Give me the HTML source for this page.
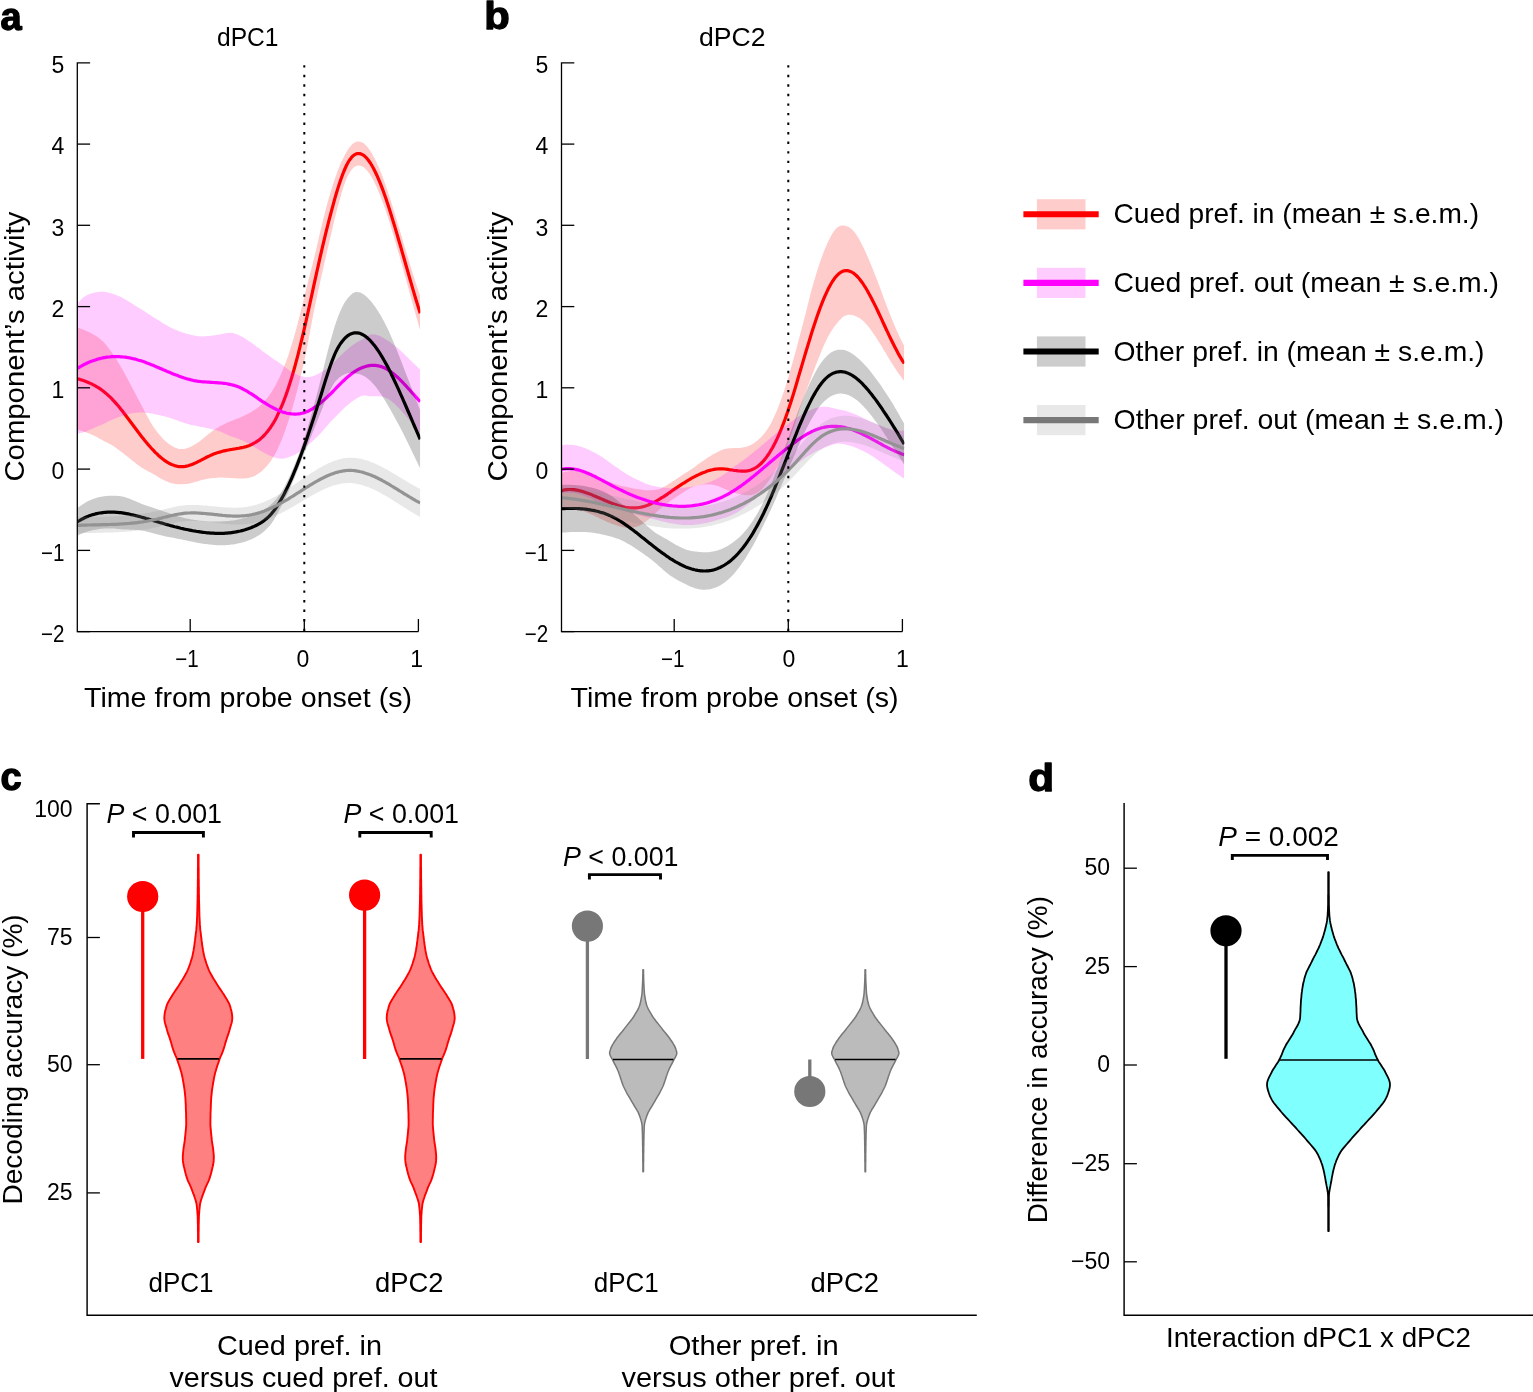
<!DOCTYPE html>
<html><head><meta charset="utf-8"><title>Figure</title>
<style>
html,body{margin:0;padding:0;background:#fff;}
body{width:1533px;height:1392px;overflow:hidden;}
svg{display:block;font-family:"Liberation Sans","DejaVu Sans",sans-serif;fill:#000;}
svg text{fill:#000;}
</style></head><body>
<svg width="1533" height="1392" viewBox="0 0 1533 1392">
<defs><clipPath id="ca"><rect x="77.3" y="40" width="343" height="592"/></clipPath><clipPath id="cb"><rect x="561.5" y="40" width="342.8" height="592"/></clipPath></defs>
<rect width="1533" height="1392" fill="#fff"/>
<g clip-path="url(#ca)">
<path d="M77.3,327.7 L78.8,328.1 L80.3,328.6 L81.8,329.1 L83.3,329.6 L84.8,330.2 L86.3,330.9 L87.8,331.5 L89.3,332.2 L90.8,333 L92.3,333.8 L93.8,334.7 L95.3,335.6 L96.8,336.6 L98.3,337.6 L99.8,338.7 L101.3,339.9 L102.8,341.2 L104.3,342.8 L105.8,344.4 L107.2,346.3 L108.7,348.2 L110.2,350.2 L111.7,352.3 L113.2,354.5 L114.7,356.8 L116.2,359.1 L117.7,361.5 L119.2,363.9 L120.7,366.5 L122.2,369.1 L123.7,371.8 L125.2,374.5 L126.7,377.3 L128.2,380.1 L129.7,382.9 L131.2,385.7 L132.7,388.6 L134.2,391.5 L135.7,394.3 L137.2,397.2 L138.7,400 L140.2,402.8 L141.7,405.7 L143.2,408.5 L144.7,411.4 L146.2,414.3 L147.7,417.1 L149.2,419.8 L150.7,422.4 L152.2,424.9 L153.7,427.2 L155.2,429.3 L156.7,431.3 L158.2,433.3 L159.7,435.1 L161.2,436.8 L162.7,438.4 L164.1,439.9 L165.6,441.3 L167.1,442.6 L168.6,443.7 L170.1,444.8 L171.6,445.8 L173.1,446.6 L174.6,447.4 L176.1,448 L177.6,448.5 L179.1,448.9 L180.6,449.1 L182.1,449.1 L183.6,449 L185.1,448.7 L186.6,448.3 L188.1,447.8 L189.6,447.2 L191.1,446.5 L192.6,445.7 L194.1,444.8 L195.6,444 L197.1,443 L198.6,442 L200.1,440.9 L201.6,439.7 L203.1,438.5 L204.6,437.3 L206.1,436 L207.6,434.8 L209.1,433.6 L210.6,432.4 L212.1,431.3 L213.6,430.2 L215.1,429.2 L216.6,428.3 L218.1,427.4 L219.6,426.6 L221,425.7 L222.5,425 L224,424.2 L225.5,423.5 L227,422.8 L228.5,422.1 L230,421.5 L231.5,420.9 L233,420.3 L234.5,419.7 L236,419.1 L237.5,418.6 L239,418 L240.5,417.4 L242,416.7 L243.5,416 L245,415.3 L246.5,414.6 L248,413.8 L249.5,413 L251,412.2 L252.5,411.3 L254,410.3 L255.5,409.3 L257,408.3 L258.5,407.1 L260,405.8 L261.5,404.4 L263,402.9 L264.5,401.3 L266,399.6 L267.5,397.7 L269,395.7 L270.5,393.5 L272,391.2 L273.5,388.8 L275,386.2 L276.5,383.4 L277.9,380.5 L279.4,377.4 L280.9,374.2 L282.4,370.7 L283.9,367.1 L285.4,363.2 L286.9,359.2 L288.4,354.9 L289.9,350.3 L291.4,345.6 L292.9,340.6 L294.4,335.4 L295.9,330.1 L297.4,324.5 L298.9,318.8 L300.4,312.9 L301.9,306.8 L303.4,300.6 L304.9,294.3 L306.4,288.3 L307.9,282.4 L309.4,276.6 L310.9,270.8 L312.4,264.9 L313.9,258.8 L315.4,252.4 L316.9,246 L318.4,239.5 L319.9,233.1 L321.4,226.8 L322.9,220.6 L324.4,214.5 L325.9,208.7 L327.4,203.1 L328.9,197.8 L330.4,192.7 L331.9,187.9 L333.4,183.3 L334.8,178.9 L336.3,174.7 L337.8,170.6 L339.3,166.7 L340.8,163.1 L342.3,159.9 L343.8,156.9 L345.3,154.1 L346.8,151.5 L348.3,149.1 L349.8,146.9 L351.3,145.2 L352.8,143.8 L354.3,142.8 L355.8,142.1 L357.3,141.6 L358.8,141.5 L360.3,141.7 L361.8,142.3 L363.3,143.1 L364.8,144.3 L366.3,145.7 L367.8,147.5 L369.3,149.5 L370.8,151.7 L372.3,154.2 L373.8,156.9 L375.3,159.8 L376.8,162.9 L378.3,166.2 L379.8,169.7 L381.3,173.4 L382.8,177.3 L384.3,181.4 L385.8,185.6 L387.3,189.9 L388.8,194.4 L390.3,198.9 L391.7,203.6 L393.2,208.4 L394.7,213.3 L396.2,218.2 L397.7,223.2 L399.2,228.2 L400.7,233.3 L402.2,238.3 L403.7,243.4 L405.2,248.5 L406.7,253.6 L408.2,258.6 L409.7,263.5 L411.2,268.4 L412.7,273.3 L414.2,278 L415.7,282.7 L417.2,287.2 L418.7,291.7 L420.2,296 L420.2,330.4 L418.7,325.2 L417.2,320 L415.7,314.7 L414.2,309.3 L412.7,303.9 L411.2,298.4 L409.7,292.9 L408.2,287.5 L406.7,282 L405.2,276.6 L403.7,271.2 L402.2,265.8 L400.7,260.4 L399.2,255.1 L397.7,249.9 L396.2,244.7 L394.7,239.6 L393.2,234.5 L391.7,229.6 L390.3,224.8 L388.8,220 L387.3,215.4 L385.8,211 L384.3,206.6 L382.8,202.5 L381.3,198.4 L379.8,194.6 L378.3,190.9 L376.8,187.4 L375.3,184.2 L373.8,181.1 L372.3,178.3 L370.8,175.7 L369.3,173.5 L367.8,171.5 L366.3,169.7 L364.8,168.3 L363.3,167.1 L361.8,166.3 L360.3,165.7 L358.8,165.5 L357.3,165.7 L355.8,166.2 L354.3,167.1 L352.8,168.4 L351.3,170.2 L349.8,172.4 L348.3,175 L346.8,178.1 L345.3,181.8 L343.8,186.1 L342.3,190.8 L340.8,195.9 L339.3,201.2 L337.8,206.7 L336.3,212.4 L334.8,218.3 L333.4,224.5 L331.9,230.8 L330.4,237.2 L328.9,243.7 L327.4,250.2 L325.9,256.8 L324.4,263.3 L322.9,269.9 L321.4,276.5 L319.9,283.3 L318.4,290.1 L316.9,297.1 L315.4,304.2 L313.9,311.6 L312.4,319.3 L310.9,327.2 L309.4,335.1 L307.9,343 L306.4,350.7 L304.9,357.9 L303.4,364.7 L301.9,371.3 L300.4,377.6 L298.9,383.7 L297.4,389.7 L295.9,395.4 L294.4,400.9 L292.9,406.3 L291.4,411.4 L289.9,416.3 L288.4,421.1 L286.9,425.6 L285.4,430 L283.9,434.1 L282.4,438 L280.9,441.7 L279.4,445.1 L277.9,448.4 L276.5,451.4 L275,454.2 L273.5,456.8 L272,459.2 L270.5,461.4 L269,463.4 L267.5,465.3 L266,467.1 L264.5,468.6 L263,470.1 L261.5,471.4 L260,472.6 L258.5,473.6 L257,474.6 L255.5,475.4 L254,476.2 L252.5,476.8 L251,477.3 L249.5,477.7 L248,478 L246.5,478.2 L245,478.4 L243.5,478.5 L242,478.5 L240.5,478.5 L239,478.5 L237.5,478.4 L236,478.3 L234.5,478.3 L233,478.2 L231.5,478.1 L230,478 L228.5,477.9 L227,477.8 L225.5,477.7 L224,477.7 L222.5,477.6 L221,477.6 L219.6,477.6 L218.1,477.7 L216.6,477.8 L215.1,477.9 L213.6,478 L212.1,478.2 L210.6,478.3 L209.1,478.6 L207.6,478.8 L206.1,479.1 L204.6,479.4 L203.1,479.7 L201.6,480.1 L200.1,480.5 L198.6,480.9 L197.1,481.4 L195.6,481.8 L194.1,482.3 L192.6,482.7 L191.1,483.1 L189.6,483.4 L188.1,483.7 L186.6,483.9 L185.1,484.1 L183.6,484.2 L182.1,484.3 L180.6,484.3 L179.1,484.3 L177.6,484.2 L176.1,484.1 L174.6,483.9 L173.1,483.6 L171.6,483.2 L170.1,482.8 L168.6,482.2 L167.1,481.6 L165.6,481 L164.1,480.3 L162.7,479.5 L161.2,478.7 L159.7,477.9 L158.2,477.1 L156.7,476.1 L155.2,475.2 L153.7,474.3 L152.2,473.4 L150.7,472.6 L149.2,471.9 L147.7,471.1 L146.2,470.3 L144.7,469.5 L143.2,468.6 L141.7,467.7 L140.2,466.6 L138.7,465.5 L137.2,464.4 L135.7,463.2 L134.2,462 L132.7,460.9 L131.2,459.7 L129.7,458.5 L128.2,457.3 L126.7,456.1 L125.2,454.9 L123.7,453.8 L122.2,452.6 L120.7,451.4 L119.2,450.3 L117.7,449.2 L116.2,448.1 L114.7,447 L113.2,446 L111.7,445.1 L110.2,444.2 L108.7,443.4 L107.2,442.6 L105.8,441.9 L104.3,441.2 L102.8,440.4 L101.3,439.6 L99.8,438.7 L98.3,437.9 L96.8,437.1 L95.3,436.3 L93.8,435.6 L92.3,434.9 L90.8,434.2 L89.3,433.6 L87.8,433.1 L86.3,432.5 L84.8,432 L83.3,431.5 L81.8,431 L80.3,430.5 L78.8,430.1 L77.3,429.7 Z" fill="rgba(255,0,0,0.2)" stroke="none"/>
<path d="M77.3,378.7 L78.8,379.1 L80.3,379.6 L81.8,380 L83.3,380.6 L84.8,381.1 L86.3,381.7 L87.8,382.3 L89.3,382.9 L90.8,383.6 L92.3,384.3 L93.8,385.1 L95.3,385.9 L96.8,386.8 L98.3,387.7 L99.8,388.7 L101.3,389.7 L102.8,390.8 L104.3,392 L105.8,393.2 L107.2,394.4 L108.7,395.8 L110.2,397.2 L111.7,398.7 L113.2,400.3 L114.7,401.9 L116.2,403.6 L117.7,405.3 L119.2,407.1 L120.7,409 L122.2,410.8 L123.7,412.8 L125.2,414.7 L126.7,416.7 L128.2,418.7 L129.7,420.7 L131.2,422.7 L132.7,424.7 L134.2,426.8 L135.7,428.8 L137.2,430.8 L138.7,432.8 L140.2,434.7 L141.7,436.7 L143.2,438.6 L144.7,440.5 L146.2,442.3 L147.7,444.1 L149.2,445.8 L150.7,447.5 L152.2,449.2 L153.7,450.7 L155.2,452.3 L156.7,453.7 L158.2,455.2 L159.7,456.5 L161.2,457.8 L162.7,459 L164.1,460.1 L165.6,461.1 L167.1,462.1 L168.6,463 L170.1,463.8 L171.6,464.5 L173.1,465.1 L174.6,465.6 L176.1,466 L177.6,466.4 L179.1,466.6 L180.6,466.7 L182.1,466.7 L183.6,466.6 L185.1,466.4 L186.6,466.1 L188.1,465.8 L189.6,465.3 L191.1,464.8 L192.6,464.2 L194.1,463.6 L195.6,462.9 L197.1,462.2 L198.6,461.4 L200.1,460.7 L201.6,459.9 L203.1,459.1 L204.6,458.3 L206.1,457.5 L207.6,456.8 L209.1,456.1 L210.6,455.4 L212.1,454.7 L213.6,454.1 L215.1,453.5 L216.6,453 L218.1,452.5 L219.6,452.1 L221,451.7 L222.5,451.3 L224,450.9 L225.5,450.6 L227,450.3 L228.5,450 L230,449.7 L231.5,449.5 L233,449.2 L234.5,449 L236,448.7 L237.5,448.5 L239,448.2 L240.5,447.9 L242,447.6 L243.5,447.3 L245,446.9 L246.5,446.4 L248,445.9 L249.5,445.4 L251,444.7 L252.5,444 L254,443.2 L255.5,442.4 L257,441.4 L258.5,440.4 L260,439.2 L261.5,437.9 L263,436.5 L264.5,435 L266,433.3 L267.5,431.5 L269,429.6 L270.5,427.5 L272,425.2 L273.5,422.8 L275,420.2 L276.5,417.4 L277.9,414.4 L279.4,411.3 L280.9,407.9 L282.4,404.4 L283.9,400.6 L285.4,396.6 L286.9,392.4 L288.4,388 L289.9,383.3 L291.4,378.5 L292.9,373.4 L294.4,368.2 L295.9,362.7 L297.4,357.1 L298.9,351.2 L300.4,345.2 L301.9,339 L303.4,332.7 L304.9,326.1 L306.4,319.5 L307.9,312.7 L309.4,305.9 L310.9,299 L312.4,292.1 L313.9,285.2 L315.4,278.3 L316.9,271.5 L318.4,264.8 L319.9,258.2 L321.4,251.7 L322.9,245.2 L324.4,238.9 L325.9,232.7 L327.4,226.7 L328.9,220.7 L330.4,215 L331.9,209.3 L333.4,203.9 L334.8,198.6 L336.3,193.5 L337.8,188.6 L339.3,184 L340.8,179.5 L342.3,175.4 L343.8,171.5 L345.3,168 L346.8,164.8 L348.3,162 L349.8,159.7 L351.3,157.7 L352.8,156.1 L354.3,154.9 L355.8,154.1 L357.3,153.6 L358.8,153.5 L360.3,153.7 L361.8,154.3 L363.3,155.1 L364.8,156.3 L366.3,157.7 L367.8,159.5 L369.3,161.5 L370.8,163.7 L372.3,166.3 L373.8,169 L375.3,172 L376.8,175.2 L378.3,178.6 L379.8,182.2 L381.3,185.9 L382.8,189.9 L384.3,194 L385.8,198.3 L387.3,202.7 L388.8,207.2 L390.3,211.9 L391.7,216.6 L393.2,221.5 L394.7,226.4 L396.2,231.4 L397.7,236.5 L399.2,241.7 L400.7,246.8 L402.2,252.1 L403.7,257.3 L405.2,262.5 L406.7,267.8 L408.2,273 L409.7,278.2 L411.2,283.4 L412.7,288.6 L414.2,293.6 L415.7,298.7 L417.2,303.6 L418.7,308.5 L420.2,313.2" fill="none" stroke="#FF0000" stroke-width="3.2" stroke-linejoin="round"/>
<path d="M77.3,303.3 L78.8,301.7 L80.3,300.2 L81.8,298.8 L83.3,297.5 L84.8,296.4 L86.3,295.5 L87.8,294.8 L89.3,294.2 L90.8,293.6 L92.3,293.2 L93.8,292.8 L95.3,292.4 L96.8,292.1 L98.3,291.9 L99.8,291.7 L101.3,291.6 L102.8,291.7 L104.3,291.8 L105.8,292 L107.2,292.3 L108.7,292.7 L110.2,293.1 L111.7,293.5 L113.2,294 L114.7,294.5 L116.2,295.1 L117.7,295.7 L119.2,296.3 L120.7,297 L122.2,297.8 L123.7,298.6 L125.2,299.4 L126.7,300.3 L128.2,301.2 L129.7,302.1 L131.2,303.1 L132.7,304 L134.2,304.9 L135.7,305.9 L137.2,306.8 L138.7,307.7 L140.2,308.7 L141.7,309.6 L143.2,310.6 L144.7,311.6 L146.2,312.6 L147.7,313.5 L149.2,314.5 L150.7,315.5 L152.2,316.4 L153.7,317.4 L155.2,318.3 L156.7,319.2 L158.2,320.1 L159.7,321.1 L161.2,322 L162.7,323 L164.1,323.9 L165.6,324.8 L167.1,325.6 L168.6,326.5 L170.1,327.3 L171.6,328.1 L173.1,328.8 L174.6,329.5 L176.1,330.1 L177.6,330.6 L179.1,331.2 L180.6,331.7 L182.1,332.3 L183.6,332.8 L185.1,333.2 L186.6,333.7 L188.1,334.1 L189.6,334.5 L191.1,334.9 L192.6,335.2 L194.1,335.6 L195.6,335.8 L197.1,336.1 L198.6,336.2 L200.1,336.3 L201.6,336.4 L203.1,336.4 L204.6,336.3 L206.1,336.2 L207.6,336.1 L209.1,335.9 L210.6,335.7 L212.1,335.6 L213.6,335.4 L215.1,335.2 L216.6,335.1 L218.1,334.8 L219.6,334.5 L221,334.2 L222.5,333.9 L224,333.5 L225.5,333.2 L227,333 L228.5,332.9 L230,332.8 L231.5,332.9 L233,333.1 L234.5,333.5 L236,334 L237.5,334.6 L239,335.2 L240.5,335.9 L242,336.7 L243.5,337.5 L245,338.4 L246.5,339.4 L248,340.4 L249.5,341.4 L251,342.5 L252.5,343.5 L254,344.6 L255.5,345.8 L257,346.9 L258.5,348 L260,349.1 L261.5,350.3 L263,351.4 L264.5,352.5 L266,353.6 L267.5,354.7 L269,355.8 L270.5,356.8 L272,357.9 L273.5,358.9 L275,359.9 L276.5,360.9 L277.9,361.8 L279.4,362.9 L280.9,364 L282.4,365.1 L283.9,366.2 L285.4,367.4 L286.9,368.5 L288.4,369.6 L289.9,370.7 L291.4,371.6 L292.9,372.5 L294.4,373.3 L295.9,374 L297.4,374.7 L298.9,375.4 L300.4,375.9 L301.9,376.4 L303.4,376.8 L304.9,377.1 L306.4,377.2 L307.9,377.1 L309.4,377 L310.9,376.7 L312.4,376.3 L313.9,375.8 L315.4,375.2 L316.9,374.5 L318.4,373.7 L319.9,372.9 L321.4,372 L322.9,371.2 L324.4,370.2 L325.9,369.2 L327.4,368.2 L328.9,367 L330.4,365.8 L331.9,364.5 L333.4,363 L334.8,361.5 L336.3,359.9 L337.8,358.4 L339.3,356.9 L340.8,355.4 L342.3,353.9 L343.8,352.5 L345.3,351.1 L346.8,349.7 L348.3,348.4 L349.8,347.2 L351.3,346 L352.8,344.9 L354.3,343.9 L355.8,342.9 L357.3,342 L358.8,341.2 L360.3,340.4 L361.8,339.7 L363.3,338.8 L364.8,337.8 L366.3,336.8 L367.8,335.9 L369.3,335.1 L370.8,334.5 L372.3,334.3 L373.8,334.4 L375.3,334.6 L376.8,335 L378.3,335.5 L379.8,336.1 L381.3,336.8 L382.8,337.6 L384.3,338.4 L385.8,339.4 L387.3,340.3 L388.8,341.3 L390.3,342.3 L391.7,343.4 L393.2,344.5 L394.7,345.7 L396.2,346.9 L397.7,348.1 L399.2,349.4 L400.7,350.8 L402.2,352.2 L403.7,353.6 L405.2,355.1 L406.7,356.5 L408.2,358 L409.7,359.5 L411.2,361 L412.7,362.5 L414.2,363.9 L415.7,365.3 L417.2,366.8 L418.7,368.2 L420.2,369.5 L420.2,433.8 L418.7,431.9 L417.2,430 L415.7,428.1 L414.2,426.2 L412.7,424.3 L411.2,422.4 L409.7,420.5 L408.2,418.7 L406.7,416.9 L405.2,415.1 L403.7,413.4 L402.2,411.7 L400.7,410 L399.2,408.4 L397.7,406.9 L396.2,405.4 L394.7,404 L393.2,402.7 L391.7,401.5 L390.3,400.3 L388.8,399.3 L387.3,398.4 L385.8,397.7 L384.3,397.2 L382.8,396.8 L381.3,396.5 L379.8,396.3 L378.3,396.2 L376.8,396.2 L375.3,396.2 L373.8,396.3 L372.3,396.3 L370.8,396.3 L369.3,396.2 L367.8,395.9 L366.3,395.7 L364.8,395.5 L363.3,395.5 L361.8,395.8 L360.3,396.4 L358.8,397.2 L357.3,398 L355.8,398.9 L354.3,399.9 L352.8,400.9 L351.3,402 L349.8,403.2 L348.3,404.4 L346.8,405.7 L345.3,407.1 L343.8,408.5 L342.3,409.9 L340.8,411.4 L339.3,412.9 L337.8,414.4 L336.3,415.9 L334.8,417.5 L333.4,419 L331.9,420.5 L330.4,422.1 L328.9,423.8 L327.4,425.5 L325.9,427.3 L324.4,429 L322.9,430.7 L321.4,432.4 L319.9,434 L318.4,435.5 L316.9,437 L315.4,438.5 L313.9,439.9 L312.4,441.3 L310.9,442.7 L309.4,444 L307.9,445.2 L306.4,446.5 L304.9,447.7 L303.4,448.9 L301.9,450.1 L300.4,451.2 L298.9,452.3 L297.4,453.3 L295.9,454.1 L294.4,454.9 L292.9,455.5 L291.4,456.2 L289.9,456.8 L288.4,457.3 L286.9,457.8 L285.4,458.2 L283.9,458.5 L282.4,458.7 L280.9,458.7 L279.4,458.6 L277.9,458.4 L276.5,458.1 L275,457.6 L273.5,457.1 L272,456.5 L270.5,455.9 L269,455.2 L267.5,454.5 L266,453.8 L264.5,453 L263,452.1 L261.5,451.3 L260,450.4 L258.5,449.5 L257,448.6 L255.5,447.7 L254,446.8 L252.5,445.9 L251,445 L249.5,444.1 L248,443.3 L246.5,442.5 L245,441.7 L243.5,441 L242,440.3 L240.5,439.7 L239,439.1 L237.5,438.5 L236,438 L234.5,437.5 L233,437.1 L231.5,436.5 L230,435.9 L228.5,435.3 L227,434.6 L225.5,433.9 L224,433.1 L222.5,432.5 L221,431.8 L219.6,431.2 L218.1,430.7 L216.6,430.3 L215.1,429.9 L213.6,429.6 L212.1,429.2 L210.6,428.9 L209.1,428.5 L207.6,428.2 L206.1,427.9 L204.6,427.6 L203.1,427.3 L201.6,427 L200.1,426.7 L198.6,426.4 L197.1,426.1 L195.6,425.8 L194.1,425.6 L192.6,425.2 L191.1,424.9 L189.6,424.5 L188.1,424.1 L186.6,423.7 L185.1,423.2 L183.6,422.8 L182.1,422.3 L180.6,421.7 L179.1,421.2 L177.6,420.6 L176.1,420.1 L174.6,419.5 L173.1,419 L171.6,418.5 L170.1,418 L168.6,417.5 L167.1,417.1 L165.6,416.7 L164.1,416.3 L162.7,416 L161.2,415.6 L159.7,415.3 L158.2,414.9 L156.7,414.6 L155.2,414.2 L153.7,413.9 L152.2,413.6 L150.7,413.4 L149.2,413.2 L147.7,413 L146.2,412.8 L144.7,412.7 L143.2,412.6 L141.7,412.6 L140.2,412.6 L138.7,412.6 L137.2,412.7 L135.7,412.8 L134.2,412.9 L132.7,413.1 L131.2,413.4 L129.7,413.8 L128.2,414.1 L126.7,414.6 L125.2,415 L123.7,415.5 L122.2,416 L120.7,416.5 L119.2,417.1 L117.7,417.6 L116.2,418.2 L114.7,418.7 L113.2,419.3 L111.7,419.9 L110.2,420.6 L108.7,421.3 L107.2,422 L105.8,422.8 L104.3,423.5 L102.8,424.2 L101.3,424.9 L99.8,425.5 L98.3,426.1 L96.8,426.7 L95.3,427.3 L93.8,428 L92.3,428.7 L90.8,429.4 L89.3,430.1 L87.8,430.8 L86.3,431.4 L84.8,432 L83.3,432.5 L81.8,432.8 L80.3,433.1 L78.8,433.4 L77.3,433.6 Z" fill="rgba(255,0,255,0.2)" stroke="none"/>
<path d="M77.3,368.5 L78.8,367.5 L80.3,366.7 L81.8,365.8 L83.3,365 L84.8,364.2 L86.3,363.5 L87.8,362.8 L89.3,362.1 L90.8,361.5 L92.3,360.9 L93.8,360.4 L95.3,359.9 L96.8,359.4 L98.3,359 L99.8,358.6 L101.3,358.2 L102.8,357.9 L104.3,357.6 L105.8,357.4 L107.2,357.2 L108.7,357 L110.2,356.9 L111.7,356.7 L113.2,356.7 L114.7,356.6 L116.2,356.6 L117.7,356.6 L119.2,356.7 L120.7,356.8 L122.2,356.9 L123.7,357 L125.2,357.2 L126.7,357.4 L128.2,357.7 L129.7,357.9 L131.2,358.2 L132.7,358.6 L134.2,358.9 L135.7,359.3 L137.2,359.7 L138.7,360.2 L140.2,360.6 L141.7,361.1 L143.2,361.6 L144.7,362.1 L146.2,362.7 L147.7,363.3 L149.2,363.8 L150.7,364.4 L152.2,365 L153.7,365.6 L155.2,366.3 L156.7,366.9 L158.2,367.5 L159.7,368.2 L161.2,368.8 L162.7,369.5 L164.1,370.1 L165.6,370.7 L167.1,371.4 L168.6,372 L170.1,372.6 L171.6,373.3 L173.1,373.9 L174.6,374.5 L176.1,375.1 L177.6,375.6 L179.1,376.2 L180.6,376.7 L182.1,377.3 L183.6,377.8 L185.1,378.2 L186.6,378.7 L188.1,379.1 L189.6,379.5 L191.1,379.9 L192.6,380.2 L194.1,380.6 L195.6,380.8 L197.1,381.1 L198.6,381.3 L200.1,381.5 L201.6,381.7 L203.1,381.8 L204.6,381.9 L206.1,382 L207.6,382.1 L209.1,382.2 L210.6,382.3 L212.1,382.4 L213.6,382.5 L215.1,382.6 L216.6,382.7 L218.1,382.8 L219.6,382.9 L221,383 L222.5,383.2 L224,383.3 L225.5,383.5 L227,383.8 L228.5,384.1 L230,384.4 L231.5,384.7 L233,385.1 L234.5,385.5 L236,386 L237.5,386.5 L239,387.1 L240.5,387.8 L242,388.5 L243.5,389.3 L245,390.1 L246.5,390.9 L248,391.8 L249.5,392.8 L251,393.7 L252.5,394.7 L254,395.7 L255.5,396.7 L257,397.7 L258.5,398.8 L260,399.8 L261.5,400.8 L263,401.8 L264.5,402.7 L266,403.7 L267.5,404.6 L269,405.5 L270.5,406.4 L272,407.2 L273.5,408 L275,408.7 L276.5,409.5 L277.9,410.1 L279.4,410.8 L280.9,411.3 L282.4,411.9 L283.9,412.4 L285.4,412.8 L286.9,413.2 L288.4,413.5 L289.9,413.7 L291.4,413.9 L292.9,414 L294.4,414.1 L295.9,414.1 L297.4,414 L298.9,413.8 L300.4,413.6 L301.9,413.3 L303.4,412.9 L304.9,412.4 L306.4,411.8 L307.9,411.2 L309.4,410.5 L310.9,409.7 L312.4,408.8 L313.9,407.8 L315.4,406.8 L316.9,405.8 L318.4,404.6 L319.9,403.4 L321.4,402.2 L322.9,400.9 L324.4,399.6 L325.9,398.3 L327.4,396.9 L328.9,395.4 L330.4,394 L331.9,392.5 L333.4,391 L334.8,389.5 L336.3,387.9 L337.8,386.4 L339.3,384.9 L340.8,383.4 L342.3,381.9 L343.8,380.5 L345.3,379.1 L346.8,377.7 L348.3,376.4 L349.8,375.2 L351.3,374 L352.8,372.9 L354.3,371.9 L355.8,370.9 L357.3,370 L358.8,369.2 L360.3,368.4 L361.8,367.8 L363.3,367.2 L364.8,366.7 L366.3,366.2 L367.8,365.9 L369.3,365.6 L370.8,365.4 L372.3,365.3 L373.8,365.3 L375.3,365.4 L376.8,365.6 L378.3,365.8 L379.8,366.2 L381.3,366.6 L382.8,367.2 L384.3,367.8 L385.8,368.6 L387.3,369.4 L388.8,370.3 L390.3,371.3 L391.7,372.4 L393.2,373.6 L394.7,374.8 L396.2,376.1 L397.7,377.5 L399.2,378.9 L400.7,380.4 L402.2,381.9 L403.7,383.5 L405.2,385.1 L406.7,386.7 L408.2,388.4 L409.7,390 L411.2,391.7 L412.7,393.4 L414.2,395 L415.7,396.7 L417.2,398.4 L418.7,400 L420.2,401.6" fill="none" stroke="#FF00FF" stroke-width="3.2" stroke-linejoin="round"/>
<path d="M77.3,508.2 L78.8,507 L80.3,505.9 L81.8,504.9 L83.3,503.9 L84.8,503 L86.3,502.1 L87.8,501.3 L89.3,500.6 L90.8,499.9 L92.3,499.3 L93.8,498.7 L95.3,498.2 L96.8,497.8 L98.3,497.3 L99.8,497 L101.3,496.7 L102.8,496.4 L104.3,496.2 L105.8,496 L107.2,495.9 L108.7,495.8 L110.2,495.7 L111.7,495.7 L113.2,495.7 L114.7,495.7 L116.2,495.8 L117.7,495.9 L119.2,496.1 L120.7,496.2 L122.2,496.5 L123.7,496.8 L125.2,497.2 L126.7,497.7 L128.2,498.2 L129.7,498.8 L131.2,499.4 L132.7,500 L134.2,500.7 L135.7,501.3 L137.2,502 L138.7,502.6 L140.2,503.3 L141.7,503.9 L143.2,504.5 L144.7,505 L146.2,505.5 L147.7,506 L149.2,506.5 L150.7,507 L152.2,507.5 L153.7,508 L155.2,508.5 L156.7,509 L158.2,509.4 L159.7,509.9 L161.2,510.5 L162.7,511 L164.1,511.5 L165.6,512 L167.1,512.6 L168.6,513.1 L170.1,513.6 L171.6,514.2 L173.1,514.7 L174.6,515.2 L176.1,515.7 L177.6,516.2 L179.1,516.6 L180.6,517.1 L182.1,517.5 L183.6,517.8 L185.1,518.2 L186.6,518.5 L188.1,518.8 L189.6,519.1 L191.1,519.4 L192.6,519.6 L194.1,519.9 L195.6,520.1 L197.1,520.3 L198.6,520.5 L200.1,520.7 L201.6,520.8 L203.1,521 L204.6,521.1 L206.1,521.2 L207.6,521.3 L209.1,521.4 L210.6,521.5 L212.1,521.5 L213.6,521.5 L215.1,521.5 L216.6,521.5 L218.1,521.5 L219.6,521.4 L221,521.4 L222.5,521.3 L224,521.3 L225.5,521.2 L227,521.1 L228.5,520.9 L230,520.8 L231.5,520.6 L233,520.4 L234.5,520.2 L236,519.9 L237.5,519.6 L239,519.3 L240.5,519 L242,518.6 L243.5,518.2 L245,517.8 L246.5,517.4 L248,517 L249.5,516.5 L251,516 L252.5,515.4 L254,514.8 L255.5,514.2 L257,513.6 L258.5,512.9 L260,512.2 L261.5,511.4 L263,510.5 L264.5,509.6 L266,508.6 L267.5,507.5 L269,506.2 L270.5,504.9 L272,503.5 L273.5,502 L275,500.5 L276.5,498.8 L277.9,497 L279.4,495 L280.9,492.9 L282.4,490.5 L283.9,487.9 L285.4,485 L286.9,482 L288.4,478.9 L289.9,475.6 L291.4,472.3 L292.9,468.8 L294.4,465.2 L295.9,461.6 L297.4,457.8 L298.9,453.9 L300.4,450 L301.9,445.8 L303.4,441.2 L304.9,436.5 L306.4,431.6 L307.9,426.5 L309.4,421.4 L310.9,416.2 L312.4,410.9 L313.9,405.5 L315.4,399.9 L316.9,394.2 L318.4,388.5 L319.9,382.6 L321.4,376.7 L322.9,370.7 L324.4,364.6 L325.9,358.5 L327.4,352.6 L328.9,346.8 L330.4,341.3 L331.9,335.9 L333.4,330.8 L334.8,325.9 L336.3,321.4 L337.8,317.2 L339.3,313.4 L340.8,309.9 L342.3,306.8 L343.8,304 L345.3,301.6 L346.8,299.5 L348.3,297.6 L349.8,295.9 L351.3,294.5 L352.8,293.3 L354.3,292.5 L355.8,292 L357.3,291.9 L358.8,292.2 L360.3,292.6 L361.8,293.3 L363.3,294.2 L364.8,295.2 L366.3,296.5 L367.8,297.9 L369.3,299.4 L370.8,301.1 L372.3,302.9 L373.8,304.9 L375.3,306.9 L376.8,309.2 L378.3,311.5 L379.8,314 L381.3,316.6 L382.8,319.3 L384.3,322.1 L385.8,325 L387.3,328 L388.8,331.1 L390.3,334.4 L391.7,337.8 L393.2,341.3 L394.7,344.9 L396.2,348.6 L397.7,352.3 L399.2,356.1 L400.7,360 L402.2,363.8 L403.7,367.7 L405.2,371.6 L406.7,375.4 L408.2,379.3 L409.7,383.2 L411.2,387.1 L412.7,391 L414.2,394.9 L415.7,398.7 L417.2,402.6 L418.7,406.4 L420.2,410.2 L420.2,468.5 L418.7,465.4 L417.2,462.3 L415.7,459.2 L414.2,456 L412.7,452.9 L411.2,449.8 L409.7,446.7 L408.2,443.6 L406.7,440.5 L405.2,437.4 L403.7,434.4 L402.2,431.5 L400.7,428.6 L399.2,425.7 L397.7,422.9 L396.2,420.2 L394.7,417.5 L393.2,414.8 L391.7,412.1 L390.3,409.5 L388.8,406.9 L387.3,404.3 L385.8,401.7 L384.3,399.3 L382.8,396.9 L381.3,394.6 L379.8,392.4 L378.3,390.2 L376.8,388.2 L375.3,386.3 L373.8,384.5 L372.3,382.9 L370.8,381.3 L369.3,379.9 L367.8,378.7 L366.3,377.6 L364.8,376.6 L363.3,375.8 L361.8,375.1 L360.3,374.5 L358.8,374.1 L357.3,373.9 L355.8,373.6 L354.3,373.3 L352.8,373.1 L351.3,373 L349.8,373 L348.3,373.1 L346.8,373.4 L345.3,374 L343.8,374.7 L342.3,375.5 L340.8,376.5 L339.3,377.6 L337.8,378.9 L336.3,380.5 L334.8,382.3 L333.4,384.5 L331.9,387 L330.4,389.8 L328.9,393 L327.4,396.3 L325.9,399.7 L324.4,403.3 L322.9,406.9 L321.4,410.7 L319.9,414.4 L318.4,418.2 L316.9,422 L315.4,425.8 L313.9,429.5 L312.4,433.3 L310.9,437 L309.4,440.8 L307.9,444.6 L306.4,448.2 L304.9,451.8 L303.4,455.4 L301.9,459.2 L300.4,463 L298.9,466.9 L297.4,470.8 L295.9,474.6 L294.4,478.2 L292.9,481.8 L291.4,485.3 L289.9,488.6 L288.4,491.9 L286.9,495 L285.4,498 L283.9,501 L282.4,504 L280.9,506.9 L279.4,509.8 L277.9,512.7 L276.5,515.4 L275,518 L273.5,520.5 L272,522.7 L270.5,524.7 L269,526.5 L267.5,528.1 L266,529.6 L264.5,531 L263,532.3 L261.5,533.4 L260,534.5 L258.5,535.4 L257,536.3 L255.5,537.2 L254,537.9 L252.5,538.7 L251,539.4 L249.5,540 L248,540.6 L246.5,541.2 L245,541.7 L243.5,542.2 L242,542.6 L240.5,543 L239,543.3 L237.5,543.6 L236,543.9 L234.5,544.2 L233,544.4 L231.5,544.6 L230,544.8 L228.5,544.9 L227,545.1 L225.5,545.2 L224,545.3 L222.5,545.3 L221,545.3 L219.6,545.3 L218.1,545.2 L216.6,545.2 L215.1,545.1 L213.6,544.9 L212.1,544.8 L210.6,544.6 L209.1,544.5 L207.6,544.3 L206.1,544.1 L204.6,543.9 L203.1,543.7 L201.6,543.5 L200.1,543.2 L198.6,543 L197.1,542.7 L195.6,542.4 L194.1,542.1 L192.6,541.8 L191.1,541.5 L189.6,541.2 L188.1,540.9 L186.6,540.5 L185.1,540.2 L183.6,539.9 L182.1,539.6 L180.6,539.3 L179.1,539 L177.6,538.7 L176.1,538.4 L174.6,538.1 L173.1,537.8 L171.6,537.5 L170.1,537.3 L168.6,537 L167.1,536.7 L165.6,536.4 L164.1,536 L162.7,535.7 L161.2,535.3 L159.7,535 L158.2,534.6 L156.7,534.2 L155.2,533.8 L153.7,533.4 L152.2,533 L150.7,532.6 L149.2,532.2 L147.7,531.8 L146.2,531.4 L144.7,531 L143.2,530.7 L141.7,530.5 L140.2,530.3 L138.7,530.1 L137.2,530 L135.7,529.9 L134.2,529.8 L132.7,529.8 L131.2,529.7 L129.7,529.7 L128.2,529.6 L126.7,529.6 L125.2,529.5 L123.7,529.5 L122.2,529.4 L120.7,529.2 L119.2,529.1 L117.7,528.9 L116.2,528.8 L114.7,528.6 L113.2,528.6 L111.7,528.5 L110.2,528.4 L108.7,528.4 L107.2,528.4 L105.8,528.5 L104.3,528.5 L102.8,528.7 L101.3,528.8 L99.8,529 L98.3,529.2 L96.8,529.4 L95.3,529.7 L93.8,530 L92.3,530.3 L90.8,530.7 L89.3,531 L87.8,531.5 L86.3,531.9 L84.8,532.4 L83.3,533 L81.8,533.6 L80.3,534.2 L78.8,534.9 L77.3,535.7 Z" fill="rgba(0,0,0,0.2)" stroke="none"/>
<path d="M77.3,521.9 L78.8,521 L80.3,520.1 L81.8,519.2 L83.3,518.5 L84.8,517.7 L86.3,517 L87.8,516.4 L89.3,515.8 L90.8,515.3 L92.3,514.8 L93.8,514.4 L95.3,513.9 L96.8,513.6 L98.3,513.3 L99.8,513 L101.3,512.8 L102.8,512.6 L104.3,512.4 L105.8,512.3 L107.2,512.2 L108.7,512.1 L110.2,512.1 L111.7,512.1 L113.2,512.1 L114.7,512.2 L116.2,512.3 L117.7,512.4 L119.2,512.6 L120.7,512.7 L122.2,512.9 L123.7,513.1 L125.2,513.4 L126.7,513.7 L128.2,513.9 L129.7,514.2 L131.2,514.6 L132.7,514.9 L134.2,515.2 L135.7,515.6 L137.2,516 L138.7,516.4 L140.2,516.8 L141.7,517.2 L143.2,517.6 L144.7,518 L146.2,518.5 L147.7,518.9 L149.2,519.3 L150.7,519.8 L152.2,520.2 L153.7,520.7 L155.2,521.1 L156.7,521.6 L158.2,522 L159.7,522.5 L161.2,522.9 L162.7,523.3 L164.1,523.8 L165.6,524.2 L167.1,524.6 L168.6,525 L170.1,525.5 L171.6,525.9 L173.1,526.3 L174.6,526.7 L176.1,527 L177.6,527.4 L179.1,527.8 L180.6,528.2 L182.1,528.5 L183.6,528.9 L185.1,529.2 L186.6,529.5 L188.1,529.8 L189.6,530.1 L191.1,530.4 L192.6,530.7 L194.1,531 L195.6,531.2 L197.1,531.5 L198.6,531.7 L200.1,531.9 L201.6,532.1 L203.1,532.3 L204.6,532.5 L206.1,532.7 L207.6,532.8 L209.1,532.9 L210.6,533.1 L212.1,533.2 L213.6,533.2 L215.1,533.3 L216.6,533.3 L218.1,533.4 L219.6,533.4 L221,533.3 L222.5,533.3 L224,533.3 L225.5,533.2 L227,533.1 L228.5,532.9 L230,532.8 L231.5,532.6 L233,532.4 L234.5,532.2 L236,531.9 L237.5,531.6 L239,531.3 L240.5,531 L242,530.6 L243.5,530.2 L245,529.8 L246.5,529.3 L248,528.8 L249.5,528.2 L251,527.7 L252.5,527 L254,526.4 L255.5,525.7 L257,525 L258.5,524.2 L260,523.3 L261.5,522.4 L263,521.4 L264.5,520.3 L266,519.1 L267.5,517.8 L269,516.4 L270.5,514.8 L272,513.1 L273.5,511.2 L275,509.3 L276.5,507.1 L277.9,504.8 L279.4,502.4 L280.9,499.9 L282.4,497.2 L283.9,494.5 L285.4,491.5 L286.9,488.5 L288.4,485.4 L289.9,482.1 L291.4,478.8 L292.9,475.3 L294.4,471.7 L295.9,468.1 L297.4,464.3 L298.9,460.4 L300.4,456.5 L301.9,452.5 L303.4,448.3 L304.9,444.1 L306.4,439.9 L307.9,435.5 L309.4,431.1 L310.9,426.6 L312.4,422.1 L313.9,417.5 L315.4,412.8 L316.9,408.1 L318.4,403.3 L319.9,398.5 L321.4,393.7 L322.9,388.8 L324.4,383.9 L325.9,379.1 L327.4,374.4 L328.9,369.9 L330.4,365.5 L331.9,361.4 L333.4,357.6 L334.8,354.1 L336.3,350.9 L337.8,348.1 L339.3,345.5 L340.8,343.2 L342.3,341.2 L343.8,339.4 L345.3,337.8 L346.8,336.5 L348.3,335.3 L349.8,334.4 L351.3,333.7 L352.8,333.2 L354.3,332.9 L355.8,332.8 L357.3,332.9 L358.8,333.1 L360.3,333.6 L361.8,334.2 L363.3,335 L364.8,335.9 L366.3,337 L367.8,338.3 L369.3,339.7 L370.8,341.2 L372.3,342.9 L373.8,344.7 L375.3,346.6 L376.8,348.7 L378.3,350.9 L379.8,353.2 L381.3,355.6 L382.8,358.1 L384.3,360.7 L385.8,363.4 L387.3,366.1 L388.8,369 L390.3,371.9 L391.7,375 L393.2,378 L394.7,381.2 L396.2,384.4 L397.7,387.6 L399.2,390.9 L400.7,394.3 L402.2,397.7 L403.7,401.1 L405.2,404.5 L406.7,408 L408.2,411.5 L409.7,414.9 L411.2,418.4 L412.7,422 L414.2,425.5 L415.7,428.9 L417.2,432.4 L418.7,435.9 L420.2,439.3" fill="none" stroke="#000000" stroke-width="3.2" stroke-linejoin="round"/>
<path d="M77.3,517.4 L78.8,517.3 L80.3,517.3 L81.8,517.2 L83.3,517.2 L84.8,517.1 L86.3,517.1 L87.8,517 L89.3,517 L90.8,517 L92.3,516.9 L93.8,516.9 L95.3,516.9 L96.8,516.8 L98.3,516.8 L99.8,516.8 L101.3,516.7 L102.8,516.7 L104.3,516.7 L105.8,516.6 L107.2,516.6 L108.7,516.5 L110.2,516.5 L111.7,516.4 L113.2,516.4 L114.7,516.3 L116.2,516.3 L117.7,516.2 L119.2,516.1 L120.7,516 L122.2,515.9 L123.7,515.8 L125.2,515.7 L126.7,515.6 L128.2,515.5 L129.7,515.4 L131.2,515.2 L132.7,515.1 L134.2,514.9 L135.7,514.8 L137.2,514.6 L138.7,514.4 L140.2,514.2 L141.7,514 L143.2,513.8 L144.7,513.5 L146.2,513.3 L147.7,513 L149.2,512.7 L150.7,512.5 L152.2,512.1 L153.7,511.8 L155.2,511.5 L156.7,511.2 L158.2,510.8 L159.7,510.4 L161.2,510.1 L162.7,509.7 L164.1,509.3 L165.6,509 L167.1,508.6 L168.6,508.2 L170.1,507.9 L171.6,507.5 L173.1,507.2 L174.6,506.9 L176.1,506.6 L177.6,506.3 L179.1,506 L180.6,505.8 L182.1,505.6 L183.6,505.4 L185.1,505.2 L186.6,505.1 L188.1,505 L189.6,505 L191.1,504.9 L192.6,504.9 L194.1,504.9 L195.6,504.9 L197.1,505 L198.6,505.1 L200.1,505.2 L201.6,505.3 L203.1,505.4 L204.6,505.5 L206.1,505.6 L207.6,505.7 L209.1,505.9 L210.6,506 L212.1,506.2 L213.6,506.3 L215.1,506.5 L216.6,506.6 L218.1,506.8 L219.6,506.9 L221,507.1 L222.5,507.2 L224,507.3 L225.5,507.4 L227,507.5 L228.5,507.6 L230,507.6 L231.5,507.7 L233,507.7 L234.5,507.7 L236,507.7 L237.5,507.7 L239,507.6 L240.5,507.5 L242,507.4 L243.5,507.2 L245,507.1 L246.5,506.9 L248,506.6 L249.5,506.3 L251,506 L252.5,505.7 L254,505.3 L255.5,504.9 L257,504.4 L258.5,504 L260,503.5 L261.5,502.9 L263,502.4 L264.5,501.7 L266,501.1 L267.5,500.4 L269,499.8 L270.5,499 L272,498.3 L273.5,497.5 L275,496.7 L276.5,495.9 L277.9,495 L279.4,494.1 L280.9,493.2 L282.4,492.3 L283.9,491.4 L285.4,490.4 L286.9,489.4 L288.4,488.4 L289.9,487.4 L291.4,486.4 L292.9,485.4 L294.4,484.4 L295.9,483.4 L297.4,482.3 L298.9,481.3 L300.4,480.3 L301.9,479.3 L303.4,478.3 L304.9,477.2 L306.4,476.2 L307.9,475.2 L309.4,474.3 L310.9,473.3 L312.4,472.3 L313.9,471.4 L315.4,470.4 L316.9,469.5 L318.4,468.6 L319.9,467.8 L321.4,466.9 L322.9,466.1 L324.4,465.3 L325.9,464.6 L327.4,463.8 L328.9,463.1 L330.4,462.5 L331.9,461.8 L333.4,461.3 L334.8,460.7 L336.3,460.2 L337.8,459.7 L339.3,459.3 L340.8,458.9 L342.3,458.6 L343.8,458.3 L345.3,458.1 L346.8,457.9 L348.3,457.8 L349.8,457.8 L351.3,457.7 L352.8,457.8 L354.3,457.9 L355.8,458 L357.3,458.2 L358.8,458.5 L360.3,458.8 L361.8,459.1 L363.3,459.5 L364.8,459.9 L366.3,460.3 L367.8,460.8 L369.3,461.3 L370.8,461.9 L372.3,462.5 L373.8,463.1 L375.3,463.8 L376.8,464.4 L378.3,465.1 L379.8,465.9 L381.3,466.6 L382.8,467.4 L384.3,468.2 L385.8,469 L387.3,469.8 L388.8,470.7 L390.3,471.5 L391.7,472.4 L393.2,473.3 L394.7,474.2 L396.2,475.1 L397.7,476 L399.2,476.9 L400.7,477.8 L402.2,478.7 L403.7,479.6 L405.2,480.5 L406.7,481.4 L408.2,482.3 L409.7,483.2 L411.2,484 L412.7,484.9 L414.2,485.8 L415.7,486.6 L417.2,487.4 L418.7,488.2 L420.2,489 L420.2,517.1 L418.7,516.2 L417.2,515.4 L415.7,514.5 L414.2,513.6 L412.7,512.7 L411.2,511.8 L409.7,510.9 L408.2,510 L406.7,509 L405.2,508.1 L403.7,507.2 L402.2,506.2 L400.7,505.2 L399.2,504.3 L397.7,503.3 L396.2,502.4 L394.7,501.4 L393.2,500.5 L391.7,499.6 L390.3,498.6 L388.8,497.7 L387.3,496.8 L385.8,495.9 L384.3,495.1 L382.8,494.2 L381.3,493.4 L379.8,492.6 L378.3,491.8 L376.8,491 L375.3,490.3 L373.8,489.5 L372.3,488.9 L370.8,488.2 L369.3,487.6 L367.8,487 L366.3,486.4 L364.8,485.9 L363.3,485.4 L361.8,485 L360.3,484.6 L358.8,484.2 L357.3,483.9 L355.8,483.6 L354.3,483.4 L352.8,483.2 L351.3,483.1 L349.8,483 L348.3,483 L346.8,483.1 L345.3,483.2 L343.8,483.3 L342.3,483.5 L340.8,483.8 L339.3,484 L337.8,484.4 L336.3,484.8 L334.8,485.2 L333.4,485.6 L331.9,486.1 L330.4,486.7 L328.9,487.2 L327.4,487.8 L325.9,488.5 L324.4,489.1 L322.9,489.8 L321.4,490.5 L319.9,491.3 L318.4,492 L316.9,492.8 L315.4,493.6 L313.9,494.4 L312.4,495.3 L310.9,496.1 L309.4,497 L307.9,497.9 L306.4,498.7 L304.9,499.6 L303.4,500.5 L301.9,501.4 L300.4,502.3 L298.9,503.2 L297.4,504.1 L295.9,505 L294.4,505.9 L292.9,506.7 L291.4,507.6 L289.9,508.4 L288.4,509.3 L286.9,510.1 L285.4,510.9 L283.9,511.7 L282.4,512.4 L280.9,513.2 L279.4,513.9 L277.9,514.6 L276.5,515.3 L275,516 L273.5,516.6 L272,517.2 L270.5,517.8 L269,518.4 L267.5,519 L266,519.5 L264.5,520 L263,520.5 L261.5,521 L260,521.5 L258.5,521.9 L257,522.3 L255.5,522.6 L254,523 L252.5,523.3 L251,523.6 L249.5,523.8 L248,524 L246.5,524.2 L245,524.3 L243.5,524.4 L242,524.5 L240.5,524.6 L239,524.6 L237.5,524.6 L236,524.6 L234.5,524.5 L233,524.4 L231.5,524.4 L230,524.3 L228.5,524.1 L227,524 L225.5,523.9 L224,523.7 L222.5,523.5 L221,523.4 L219.6,523.2 L218.1,523 L216.6,522.8 L215.1,522.7 L213.6,522.5 L212.1,522.3 L210.6,522.1 L209.1,522 L207.6,521.8 L206.1,521.6 L204.6,521.5 L203.1,521.4 L201.6,521.3 L200.1,521.2 L198.6,521.1 L197.1,521 L195.6,520.9 L194.1,520.9 L192.6,520.9 L191.1,520.9 L189.6,521 L188.1,521 L186.6,521.1 L185.1,521.2 L183.6,521.4 L182.1,521.6 L180.6,521.8 L179.1,522 L177.6,522.3 L176.1,522.6 L174.6,522.9 L173.1,523.2 L171.6,523.5 L170.1,523.9 L168.6,524.2 L167.1,524.6 L165.6,525 L164.1,525.3 L162.7,525.7 L161.2,526.1 L159.7,526.4 L158.2,526.8 L156.7,527.2 L155.2,527.5 L153.7,527.8 L152.2,528.1 L150.7,528.5 L149.2,528.7 L147.7,529 L146.2,529.3 L144.7,529.5 L143.2,529.8 L141.7,530 L140.2,530.2 L138.7,530.4 L137.2,530.6 L135.7,530.8 L134.2,530.9 L132.7,531.1 L131.2,531.2 L129.7,531.4 L128.2,531.5 L126.7,531.6 L125.2,531.7 L123.7,531.8 L122.2,531.9 L120.7,532 L119.2,532.1 L117.7,532.2 L116.2,532.3 L114.7,532.3 L113.2,532.4 L111.7,532.4 L110.2,532.5 L108.7,532.5 L107.2,532.6 L105.8,532.6 L104.3,532.7 L102.8,532.7 L101.3,532.7 L99.8,532.8 L98.3,532.8 L96.8,532.8 L95.3,532.9 L93.8,532.9 L92.3,532.9 L90.8,533 L89.3,533 L87.8,533 L86.3,533.1 L84.8,533.1 L83.3,533.2 L81.8,533.2 L80.3,533.3 L78.8,533.3 L77.3,533.4 Z" fill="rgba(147,147,147,0.21)" stroke="none"/>
<path d="M77.3,525.4 L78.8,525.3 L80.3,525.3 L81.8,525.2 L83.3,525.2 L84.8,525.1 L86.3,525.1 L87.8,525 L89.3,525 L90.8,525 L92.3,524.9 L93.8,524.9 L95.3,524.9 L96.8,524.8 L98.3,524.8 L99.8,524.8 L101.3,524.7 L102.8,524.7 L104.3,524.7 L105.8,524.6 L107.2,524.6 L108.7,524.5 L110.2,524.5 L111.7,524.4 L113.2,524.4 L114.7,524.3 L116.2,524.3 L117.7,524.2 L119.2,524.1 L120.7,524 L122.2,523.9 L123.7,523.8 L125.2,523.7 L126.7,523.6 L128.2,523.5 L129.7,523.4 L131.2,523.2 L132.7,523.1 L134.2,522.9 L135.7,522.8 L137.2,522.6 L138.7,522.4 L140.2,522.2 L141.7,522 L143.2,521.8 L144.7,521.5 L146.2,521.3 L147.7,521 L149.2,520.7 L150.7,520.5 L152.2,520.1 L153.7,519.8 L155.2,519.5 L156.7,519.2 L158.2,518.8 L159.7,518.4 L161.2,518.1 L162.7,517.7 L164.1,517.3 L165.6,517 L167.1,516.6 L168.6,516.2 L170.1,515.9 L171.6,515.5 L173.1,515.2 L174.6,514.9 L176.1,514.6 L177.6,514.3 L179.1,514 L180.6,513.8 L182.1,513.6 L183.6,513.4 L185.1,513.2 L186.6,513.1 L188.1,513 L189.6,513 L191.1,512.9 L192.6,512.9 L194.1,512.9 L195.6,512.9 L197.1,513 L198.6,513.1 L200.1,513.2 L201.6,513.3 L203.1,513.4 L204.6,513.5 L206.1,513.6 L207.6,513.8 L209.1,513.9 L210.6,514.1 L212.1,514.2 L213.6,514.4 L215.1,514.6 L216.6,514.7 L218.1,514.9 L219.6,515.1 L221,515.2 L222.5,515.4 L224,515.5 L225.5,515.6 L227,515.8 L228.5,515.9 L230,515.9 L231.5,516 L233,516.1 L234.5,516.1 L236,516.1 L237.5,516.1 L239,516.1 L240.5,516 L242,515.9 L243.5,515.8 L245,515.7 L246.5,515.5 L248,515.3 L249.5,515.1 L251,514.8 L252.5,514.5 L254,514.1 L255.5,513.8 L257,513.4 L258.5,512.9 L260,512.5 L261.5,512 L263,511.4 L264.5,510.9 L266,510.3 L267.5,509.7 L269,509.1 L270.5,508.4 L272,507.8 L273.5,507 L275,506.3 L276.5,505.6 L277.9,504.8 L279.4,504 L280.9,503.2 L282.4,502.4 L283.9,501.5 L285.4,500.6 L286.9,499.8 L288.4,498.9 L289.9,497.9 L291.4,497 L292.9,496.1 L294.4,495.1 L295.9,494.2 L297.4,493.2 L298.9,492.3 L300.4,491.3 L301.9,490.3 L303.4,489.4 L304.9,488.4 L306.4,487.5 L307.9,486.6 L309.4,485.6 L310.9,484.7 L312.4,483.8 L313.9,482.9 L315.4,482 L316.9,481.2 L318.4,480.3 L319.9,479.5 L321.4,478.7 L322.9,478 L324.4,477.2 L325.9,476.5 L327.4,475.8 L328.9,475.2 L330.4,474.6 L331.9,474 L333.4,473.4 L334.8,472.9 L336.3,472.5 L337.8,472.1 L339.3,471.7 L340.8,471.3 L342.3,471.1 L343.8,470.8 L345.3,470.6 L346.8,470.5 L348.3,470.4 L349.8,470.4 L351.3,470.4 L352.8,470.5 L354.3,470.6 L355.8,470.8 L357.3,471.1 L358.8,471.3 L360.3,471.7 L361.8,472 L363.3,472.4 L364.8,472.9 L366.3,473.4 L367.8,473.9 L369.3,474.5 L370.8,475 L372.3,475.7 L373.8,476.3 L375.3,477 L376.8,477.7 L378.3,478.5 L379.8,479.2 L381.3,480 L382.8,480.8 L384.3,481.6 L385.8,482.5 L387.3,483.3 L388.8,484.2 L390.3,485.1 L391.7,486 L393.2,486.9 L394.7,487.8 L396.2,488.7 L397.7,489.6 L399.2,490.6 L400.7,491.5 L402.2,492.4 L403.7,493.4 L405.2,494.3 L406.7,495.2 L408.2,496.1 L409.7,497 L411.2,497.9 L412.7,498.8 L414.2,499.7 L415.7,500.6 L417.2,501.4 L418.7,502.2 L420.2,503" fill="none" stroke="#939393" stroke-width="3.2" stroke-linejoin="round"/>
</g>

<g clip-path="url(#cb)">
<path d="M561.5,473 L563,472.5 L564.5,472.1 L566,471.7 L567.5,471.5 L569,471.3 L570.5,471.1 L572,471.1 L573.5,471 L575,471.1 L576.5,471.2 L578,471.4 L579.5,471.6 L581,471.9 L582.5,472.2 L583.9,472.6 L585.4,473 L586.9,473.4 L588.4,473.9 L589.9,474.3 L591.4,474.9 L592.9,475.4 L594.4,475.9 L595.9,476.5 L597.4,477.1 L598.9,477.7 L600.4,478.3 L601.9,478.9 L603.4,479.5 L604.9,480.1 L606.4,480.7 L607.9,481.3 L609.4,481.9 L610.9,482.4 L612.4,483 L613.9,483.6 L615.4,484.1 L616.9,484.6 L618.4,485.1 L619.9,485.5 L621.4,485.9 L622.9,486.2 L624.4,486.5 L625.8,486.8 L627.3,487.1 L628.8,487.5 L630.3,487.8 L631.8,488.1 L633.3,488.4 L634.8,488.7 L636.3,489 L637.8,489.2 L639.3,489.3 L640.8,489.5 L642.3,489.8 L643.8,490 L645.3,490.2 L646.8,490.3 L648.3,490.3 L649.8,490.3 L651.3,490.2 L652.8,490.1 L654.3,489.9 L655.8,489.8 L657.3,489.5 L658.8,489.2 L660.3,488.7 L661.8,488.1 L663.3,487.3 L664.8,486.4 L666.3,485.5 L667.8,484.6 L669.2,483.6 L670.7,482.7 L672.2,481.7 L673.7,480.7 L675.2,479.7 L676.7,478.7 L678.2,477.7 L679.7,476.7 L681.2,475.7 L682.7,474.7 L684.2,473.8 L685.7,472.8 L687.2,471.9 L688.7,471 L690.2,470.1 L691.7,469.1 L693.2,468 L694.7,466.9 L696.2,465.8 L697.7,464.6 L699.2,463.5 L700.7,462.4 L702.2,461.4 L703.7,460.4 L705.2,459.4 L706.7,458.3 L708.2,457.3 L709.7,456.4 L711.2,455.4 L712.6,454.6 L714.1,453.7 L715.6,452.9 L717.1,452.2 L718.6,451.4 L720.1,450.7 L721.6,450.1 L723.1,449.5 L724.6,449 L726.1,448.7 L727.6,448.4 L729.1,448.3 L730.6,448.2 L732.1,448.2 L733.6,448.1 L735.1,448.1 L736.6,448.1 L738.1,448 L739.6,447.9 L741.1,447.8 L742.6,447.6 L744.1,447.3 L745.6,446.9 L747.1,446.5 L748.6,445.9 L750.1,445.2 L751.6,444.5 L753.1,443.7 L754.5,442.7 L756,441.6 L757.5,440.4 L759,439.1 L760.5,437.7 L762,436.1 L763.5,434.4 L765,432.5 L766.5,430.5 L768,428.2 L769.5,425.8 L771,423.2 L772.5,420.3 L774,417.1 L775.5,413.8 L777,410.2 L778.5,406.4 L780,402.5 L781.5,398.3 L783,394 L784.5,389.5 L786,384.8 L787.5,379.9 L789,374.9 L790.5,369.7 L792,364.5 L793.5,359.1 L795,353.8 L796.5,348.3 L797.9,342.8 L799.4,337.2 L800.9,331.6 L802.4,325.9 L803.9,320.1 L805.4,314.2 L806.9,308.2 L808.4,302.2 L809.9,296.3 L811.4,290.6 L812.9,285.2 L814.4,280 L815.9,275 L817.4,270.1 L818.9,265.5 L820.4,261 L821.9,256.8 L823.4,252.8 L824.9,249 L826.4,245.5 L827.9,242.1 L829.4,239 L830.9,236.2 L832.4,233.6 L833.9,231.3 L835.4,229.3 L836.9,227.8 L838.4,226.7 L839.9,226 L841.3,225.6 L842.8,225.5 L844.3,225.6 L845.8,225.9 L847.3,226.4 L848.8,227.1 L850.3,228.1 L851.8,229.3 L853.3,230.7 L854.8,232.5 L856.3,234.6 L857.8,236.9 L859.3,239.5 L860.8,242.3 L862.3,245.2 L863.8,248.3 L865.3,251.5 L866.8,254.8 L868.3,258.2 L869.8,261.8 L871.3,265.4 L872.8,269.1 L874.3,272.9 L875.8,276.7 L877.3,280.6 L878.8,284.6 L880.3,288.5 L881.8,292.5 L883.2,296.5 L884.7,300.5 L886.2,304.5 L887.7,308.4 L889.2,312.2 L890.7,316 L892.2,319.7 L893.7,323.4 L895.2,326.9 L896.7,330.4 L898.2,333.7 L899.7,337 L901.2,340.1 L902.7,343 L904.2,345.8 L904.2,380.9 L902.7,379.1 L901.2,377.1 L899.7,375.1 L898.2,373 L896.7,370.8 L895.2,368.5 L893.7,366.2 L892.2,363.8 L890.7,361.4 L889.2,358.9 L887.7,356.4 L886.2,354 L884.7,351.5 L883.2,349 L881.8,346.6 L880.3,344.2 L878.8,341.8 L877.3,339.4 L875.8,337.1 L874.3,334.8 L872.8,332.7 L871.3,330.6 L869.8,328.5 L868.3,326.6 L866.8,324.8 L865.3,323.2 L863.8,321.6 L862.3,320.3 L860.8,319.1 L859.3,318.1 L857.8,317.2 L856.3,316.4 L854.8,315.8 L853.3,315.3 L851.8,314.9 L850.3,314.7 L848.8,314.7 L847.3,314.9 L845.8,315.4 L844.3,316.1 L842.8,317.1 L841.3,318.4 L839.9,319.9 L838.4,321.6 L836.9,323.4 L835.4,325.3 L833.9,327.3 L832.4,329.4 L830.9,331.8 L829.4,334.4 L827.9,337.1 L826.4,340.1 L824.9,343.3 L823.4,346.6 L821.9,350.1 L820.4,353.7 L818.9,357.4 L817.4,361.2 L815.9,365 L814.4,369 L812.9,373.1 L811.4,377.1 L809.9,381 L808.4,385 L806.9,388.9 L805.4,392.9 L803.9,397 L802.4,401.4 L800.9,405.8 L799.4,410.3 L797.9,414.9 L796.5,419.3 L795,423.8 L793.5,428.2 L792,432.4 L790.5,436.6 L789,440.6 L787.5,444.5 L786,448.3 L784.5,451.9 L783,455.3 L781.5,458.7 L780,461.8 L778.5,464.8 L777,467.6 L775.5,470.2 L774,472.7 L772.5,475.1 L771,477.5 L769.5,479.7 L768,481.8 L766.5,483.8 L765,485.7 L763.5,487.4 L762,488.9 L760.5,490.3 L759,491.5 L757.5,492.6 L756,493.4 L754.5,494.1 L753.1,494.6 L751.6,495 L750.1,495.2 L748.6,495.3 L747.1,495.3 L745.6,495.2 L744.1,495 L742.6,494.8 L741.1,494.5 L739.6,494.1 L738.1,493.8 L736.6,493.3 L735.1,492.9 L733.6,492.4 L732.1,491.9 L730.6,491.4 L729.1,490.8 L727.6,490.2 L726.1,489.6 L724.6,488.9 L723.1,488.2 L721.6,487.6 L720.1,486.9 L718.6,486.3 L717.1,485.8 L715.6,485.4 L714.1,485.1 L712.6,484.8 L711.2,484.6 L709.7,484.5 L708.2,484.4 L706.7,484.3 L705.2,484.4 L703.7,484.5 L702.2,484.7 L700.7,484.9 L699.2,485.2 L697.7,485.5 L696.2,485.9 L694.7,486.3 L693.2,486.8 L691.7,487.4 L690.2,488.1 L688.7,489 L687.2,489.9 L685.7,490.8 L684.2,491.8 L682.7,492.7 L681.2,493.7 L679.7,494.7 L678.2,495.7 L676.7,496.7 L675.2,497.7 L673.7,498.7 L672.2,499.8 L670.7,500.8 L669.2,501.9 L667.8,503 L666.3,504.1 L664.8,505.2 L663.3,506.3 L661.8,507.4 L660.3,508.7 L658.8,510 L657.3,511.5 L655.8,512.9 L654.3,514.4 L652.8,515.8 L651.3,517.2 L649.8,518.4 L648.3,519.6 L646.8,520.8 L645.3,522 L643.8,523.1 L642.3,524.1 L640.8,524.9 L639.3,525.7 L637.8,526.2 L636.3,526.7 L634.8,527.1 L633.3,527.5 L631.8,527.7 L630.3,527.9 L628.8,528 L627.3,527.9 L625.8,527.8 L624.4,527.5 L622.9,527.2 L621.4,526.9 L619.9,526.5 L618.4,526.1 L616.9,525.6 L615.4,525.1 L613.9,524.6 L612.4,524 L610.9,523.4 L609.4,522.8 L607.9,522.2 L606.4,521.5 L604.9,520.8 L603.4,520.1 L601.9,519.4 L600.4,518.7 L598.9,518 L597.4,517.3 L595.9,516.5 L594.4,515.8 L592.9,515.1 L591.4,514.4 L589.9,513.8 L588.4,513.1 L586.9,512.5 L585.4,511.9 L583.9,511.3 L582.5,510.8 L581,510.3 L579.5,509.8 L578,509.4 L576.5,509 L575,508.6 L573.5,508.3 L572,508.1 L570.5,507.9 L569,507.8 L567.5,507.7 L566,507.7 L564.5,507.8 L563,507.9 L561.5,508.1 Z" fill="rgba(255,0,0,0.2)" stroke="none"/>
<path d="M561.5,490.6 L563,490.2 L564.5,489.9 L566,489.7 L567.5,489.6 L569,489.5 L570.5,489.5 L572,489.6 L573.5,489.7 L575,489.9 L576.5,490.1 L578,490.4 L579.5,490.7 L581,491.1 L582.5,491.5 L583.9,491.9 L585.4,492.4 L586.9,492.9 L588.4,493.5 L589.9,494.1 L591.4,494.6 L592.9,495.3 L594.4,495.9 L595.9,496.5 L597.4,497.2 L598.9,497.8 L600.4,498.5 L601.9,499.1 L603.4,499.8 L604.9,500.5 L606.4,501.1 L607.9,501.7 L609.4,502.3 L610.9,502.9 L612.4,503.5 L613.9,504.1 L615.4,504.6 L616.9,505.1 L618.4,505.6 L619.9,506 L621.4,506.4 L622.9,506.7 L624.4,507 L625.8,507.3 L627.3,507.5 L628.8,507.7 L630.3,507.8 L631.8,507.9 L633.3,507.9 L634.8,507.9 L636.3,507.8 L637.8,507.7 L639.3,507.5 L640.8,507.2 L642.3,506.9 L643.8,506.5 L645.3,506.1 L646.8,505.6 L648.3,505 L649.8,504.3 L651.3,503.7 L652.8,502.9 L654.3,502.2 L655.8,501.3 L657.3,500.5 L658.8,499.6 L660.3,498.7 L661.8,497.7 L663.3,496.8 L664.8,495.8 L666.3,494.8 L667.8,493.8 L669.2,492.8 L670.7,491.8 L672.2,490.7 L673.7,489.7 L675.2,488.7 L676.7,487.7 L678.2,486.7 L679.7,485.7 L681.2,484.7 L682.7,483.7 L684.2,482.8 L685.7,481.8 L687.2,480.9 L688.7,480 L690.2,479.1 L691.7,478.2 L693.2,477.4 L694.7,476.6 L696.2,475.8 L697.7,475.1 L699.2,474.4 L700.7,473.7 L702.2,473 L703.7,472.4 L705.2,471.9 L706.7,471.3 L708.2,470.8 L709.7,470.4 L711.2,470 L712.6,469.7 L714.1,469.4 L715.6,469.2 L717.1,469 L718.6,468.9 L720.1,468.8 L721.6,468.8 L723.1,468.9 L724.6,469 L726.1,469.1 L727.6,469.3 L729.1,469.6 L730.6,469.8 L732.1,470 L733.6,470.3 L735.1,470.5 L736.6,470.7 L738.1,470.9 L739.6,471 L741.1,471.1 L742.6,471.2 L744.1,471.2 L745.6,471.1 L747.1,470.9 L748.6,470.6 L750.1,470.2 L751.6,469.7 L753.1,469.1 L754.5,468.4 L756,467.5 L757.5,466.5 L759,465.3 L760.5,464 L762,462.5 L763.5,460.9 L765,459.1 L766.5,457.1 L768,455 L769.5,452.8 L771,450.3 L772.5,447.7 L774,444.9 L775.5,442 L777,438.9 L778.5,435.6 L780,432.1 L781.5,428.5 L783,424.7 L784.5,420.7 L786,416.5 L787.5,412.2 L789,407.7 L790.5,403.2 L792,398.5 L793.5,393.7 L795,388.8 L796.5,383.8 L797.9,378.8 L799.4,373.8 L800.9,368.7 L802.4,363.6 L803.9,358.6 L805.4,353.5 L806.9,348.5 L808.4,343.6 L809.9,338.7 L811.4,333.8 L812.9,329.1 L814.4,324.5 L815.9,320 L817.4,315.6 L818.9,311.4 L820.4,307.3 L821.9,303.4 L823.4,299.7 L824.9,296.1 L826.4,292.8 L827.9,289.6 L829.4,286.7 L830.9,284 L832.4,281.5 L833.9,279.3 L835.4,277.3 L836.9,275.6 L838.4,274.1 L839.9,272.9 L841.3,272 L842.8,271.3 L844.3,270.8 L845.8,270.6 L847.3,270.7 L848.8,270.9 L850.3,271.4 L851.8,272.1 L853.3,273 L854.8,274.2 L856.3,275.5 L857.8,277 L859.3,278.8 L860.8,280.7 L862.3,282.7 L863.8,285 L865.3,287.3 L866.8,289.8 L868.3,292.4 L869.8,295.2 L871.3,298 L872.8,300.9 L874.3,303.9 L875.8,306.9 L877.3,310 L878.8,313.2 L880.3,316.4 L881.8,319.6 L883.2,322.8 L884.7,326 L886.2,329.2 L887.7,332.4 L889.2,335.6 L890.7,338.7 L892.2,341.8 L893.7,344.8 L895.2,347.7 L896.7,350.6 L898.2,353.4 L899.7,356.1 L901.2,358.6 L902.7,361.1 L904.2,363.4" fill="none" stroke="#FF0000" stroke-width="3.2" stroke-linejoin="round"/>
<path d="M561.5,445.3 L563,445 L564.5,444.8 L566,444.7 L567.5,444.6 L569,444.7 L570.5,444.7 L572,444.8 L573.5,445 L575,445.3 L576.5,445.6 L578,445.9 L579.5,446.3 L581,446.7 L582.5,447.2 L583.9,447.7 L585.4,448.3 L586.9,448.9 L588.4,449.5 L589.9,450.2 L591.4,451 L592.9,451.7 L594.4,452.5 L595.9,453.3 L597.4,454.2 L598.9,455.1 L600.4,456 L601.9,456.9 L603.4,457.9 L604.9,459 L606.4,460.1 L607.9,461.2 L609.4,462.2 L610.9,463.3 L612.4,464.4 L613.9,465.4 L615.4,466.5 L616.9,467.6 L618.4,468.6 L619.9,469.7 L621.4,470.7 L622.9,471.7 L624.4,472.6 L625.8,473.6 L627.3,474.4 L628.8,475.3 L630.3,476.1 L631.8,476.9 L633.3,477.7 L634.8,478.5 L636.3,479.2 L637.8,479.9 L639.3,480.6 L640.8,481.4 L642.3,482.1 L643.8,482.7 L645.3,483.4 L646.8,484 L648.3,484.5 L649.8,485 L651.3,485.4 L652.8,485.8 L654.3,486.1 L655.8,486.4 L657.3,486.7 L658.8,487 L660.3,487.2 L661.8,487.4 L663.3,487.6 L664.8,487.8 L666.3,488 L667.8,488.1 L669.2,488.2 L670.7,488.2 L672.2,488.3 L673.7,488.3 L675.2,488.2 L676.7,488.2 L678.2,488.1 L679.7,488 L681.2,487.9 L682.7,487.8 L684.2,487.7 L685.7,487.5 L687.2,487.3 L688.7,487.1 L690.2,486.9 L691.7,486.6 L693.2,486.4 L694.7,486.1 L696.2,485.8 L697.7,485.5 L699.2,485.1 L700.7,484.8 L702.2,484.4 L703.7,484 L705.2,483.5 L706.7,483 L708.2,482.5 L709.7,481.9 L711.2,481.4 L712.6,480.7 L714.1,480.1 L715.6,479.4 L717.1,478.6 L718.6,477.8 L720.1,476.9 L721.6,476 L723.1,475 L724.6,474 L726.1,472.9 L727.6,471.8 L729.1,470.7 L730.6,469.6 L732.1,468.4 L733.6,467.3 L735.1,466.1 L736.6,465 L738.1,463.9 L739.6,462.8 L741.1,461.8 L742.6,460.7 L744.1,459.6 L745.6,458.5 L747.1,457.3 L748.6,456.2 L750.1,455 L751.6,453.8 L753.1,452.6 L754.5,451.4 L756,450.2 L757.5,448.9 L759,447.7 L760.5,446.4 L762,445.2 L763.5,443.9 L765,442.6 L766.5,441.4 L768,440.1 L769.5,438.8 L771,437.5 L772.5,436.3 L774,435 L775.5,433.8 L777,432.5 L778.5,431.3 L780,430.1 L781.5,428.9 L783,427.7 L784.5,426.6 L786,425.4 L787.5,424.3 L789,423.2 L790.5,422.1 L792,421 L793.5,420 L795,418.9 L796.5,417.9 L797.9,416.9 L799.4,416 L800.9,415 L802.4,414.1 L803.9,413.3 L805.4,412.5 L806.9,411.7 L808.4,411 L809.9,410.3 L811.4,409.7 L812.9,409.1 L814.4,408.6 L815.9,408.1 L817.4,407.7 L818.9,407.3 L820.4,407 L821.9,406.8 L823.4,406.7 L824.9,406.7 L826.4,406.8 L827.9,407 L829.4,407.2 L830.9,407.5 L832.4,407.9 L833.9,408.3 L835.4,408.7 L836.9,409 L838.4,409.4 L839.9,409.6 L841.3,409.9 L842.8,410.2 L844.3,410.6 L845.8,411 L847.3,411.4 L848.8,411.9 L850.3,412.4 L851.8,412.9 L853.3,413.5 L854.8,414.1 L856.3,414.8 L857.8,415.4 L859.3,416.1 L860.8,416.8 L862.3,417.6 L863.8,418.3 L865.3,419.1 L866.8,419.8 L868.3,420.5 L869.8,421.2 L871.3,421.9 L872.8,422.5 L874.3,423.2 L875.8,423.8 L877.3,424.4 L878.8,425 L880.3,425.6 L881.8,426.2 L883.2,426.8 L884.7,427.3 L886.2,427.9 L887.7,428.3 L889.2,428.8 L890.7,429.1 L892.2,429.5 L893.7,429.8 L895.2,430.1 L896.7,430.3 L898.2,430.5 L899.7,430.6 L901.2,430.7 L902.7,430.8 L904.2,430.8 L904.2,478.6 L902.7,477.7 L901.2,476.7 L899.7,475.6 L898.2,474.6 L896.7,473.5 L895.2,472.5 L893.7,471.4 L892.2,470.3 L890.7,469.2 L889.2,468.1 L887.7,467 L886.2,466 L884.7,464.9 L883.2,463.8 L881.8,462.8 L880.3,461.7 L878.8,460.7 L877.3,459.6 L875.8,458.6 L874.3,457.6 L872.8,456.6 L871.3,455.6 L869.8,454.6 L868.3,453.7 L866.8,452.9 L865.3,452.1 L863.8,451.3 L862.3,450.6 L860.8,449.9 L859.3,449.2 L857.8,448.5 L856.3,447.9 L854.8,447.3 L853.3,446.7 L851.8,446.2 L850.3,445.7 L848.8,445.3 L847.3,444.9 L845.8,444.6 L844.3,444.3 L842.8,444 L841.3,443.8 L839.9,443.7 L838.4,443.6 L836.9,443.7 L835.4,443.9 L833.9,444.3 L832.4,444.7 L830.9,445.2 L829.4,445.8 L827.9,446.4 L826.4,447 L824.9,447.6 L823.4,448.2 L821.9,448.8 L820.4,449.5 L818.9,450.1 L817.4,450.8 L815.9,451.6 L814.4,452.3 L812.9,453.2 L811.4,454 L809.9,454.9 L808.4,455.8 L806.9,456.8 L805.4,457.8 L803.9,458.8 L802.4,459.9 L800.9,460.9 L799.4,462 L797.9,463.1 L796.5,464.3 L795,465.4 L793.5,466.6 L792,467.8 L790.5,469 L789,470.2 L787.5,471.5 L786,472.7 L784.5,474 L783,475.3 L781.5,476.5 L780,477.8 L778.5,479.1 L777,480.4 L775.5,481.7 L774,483 L772.5,484.3 L771,485.5 L769.5,486.8 L768,488.1 L766.5,489.4 L765,490.6 L763.5,491.9 L762,493.2 L760.5,494.4 L759,495.7 L757.5,496.9 L756,498.2 L754.5,499.4 L753.1,500.6 L751.6,501.8 L750.1,503 L748.6,504.2 L747.1,505.3 L745.6,506.5 L744.1,507.6 L742.6,508.7 L741.1,509.8 L739.6,510.8 L738.1,511.8 L736.6,512.7 L735.1,513.6 L733.6,514.3 L732.1,515 L730.6,515.7 L729.1,516.3 L727.6,516.9 L726.1,517.4 L724.6,517.9 L723.1,518.3 L721.6,518.8 L720.1,519.2 L718.6,519.6 L717.1,520.1 L715.6,520.5 L714.1,521 L712.6,521.4 L711.2,521.8 L709.7,522.2 L708.2,522.5 L706.7,522.9 L705.2,523.2 L703.7,523.5 L702.2,523.8 L700.7,524 L699.2,524.3 L697.7,524.5 L696.2,524.6 L694.7,524.8 L693.2,524.9 L691.7,525 L690.2,525 L688.7,525.1 L687.2,525.1 L685.7,525 L684.2,525 L682.7,524.9 L681.2,524.7 L679.7,524.6 L678.2,524.4 L676.7,524.2 L675.2,524 L673.7,523.8 L672.2,523.5 L670.7,523.2 L669.2,523 L667.8,522.7 L666.3,522.3 L664.8,522 L663.3,521.7 L661.8,521.3 L660.3,520.9 L658.8,520.6 L657.3,520.1 L655.8,519.7 L654.3,519.3 L652.8,518.9 L651.3,518.4 L649.8,518 L648.3,517.6 L646.8,517.2 L645.3,516.8 L643.8,516.5 L642.3,516.1 L640.8,515.8 L639.3,515.4 L637.8,515 L636.3,514.5 L634.8,514.1 L633.3,513.6 L631.8,513.2 L630.3,512.7 L628.8,512.3 L627.3,511.8 L625.8,511.3 L624.4,510.8 L622.9,510.4 L621.4,510 L619.9,509.5 L618.4,509.1 L616.9,508.7 L615.4,508.2 L613.9,507.7 L612.4,507.2 L610.9,506.7 L609.4,506.2 L607.9,505.6 L606.4,505.1 L604.9,504.6 L603.4,504 L601.9,503.4 L600.4,502.7 L598.9,502.1 L597.4,501.4 L595.9,500.7 L594.4,500 L592.9,499.4 L591.4,498.7 L589.9,498.1 L588.4,497.5 L586.9,496.9 L585.4,496.3 L583.9,495.7 L582.5,495.2 L581,494.7 L579.5,494.3 L578,493.9 L576.5,493.6 L575,493.3 L573.5,493 L572,492.8 L570.5,492.7 L569,492.7 L567.5,492.6 L566,492.7 L564.5,492.8 L563,493 L561.5,493.3 Z" fill="rgba(255,0,255,0.2)" stroke="none"/>
<path d="M561.5,469.3 L563,469 L564.5,468.8 L566,468.7 L567.5,468.6 L569,468.7 L570.5,468.7 L572,468.8 L573.5,469 L575,469.3 L576.5,469.6 L578,469.9 L579.5,470.3 L581,470.7 L582.5,471.2 L583.9,471.7 L585.4,472.3 L586.9,472.9 L588.4,473.5 L589.9,474.2 L591.4,474.8 L592.9,475.6 L594.4,476.3 L595.9,477 L597.4,477.8 L598.9,478.6 L600.4,479.4 L601.9,480.2 L603.4,481 L604.9,481.8 L606.4,482.6 L607.9,483.4 L609.4,484.2 L610.9,485 L612.4,485.8 L613.9,486.6 L615.4,487.4 L616.9,488.1 L618.4,488.9 L619.9,489.6 L621.4,490.3 L622.9,491 L624.4,491.7 L625.8,492.4 L627.3,493.1 L628.8,493.8 L630.3,494.4 L631.8,495.1 L633.3,495.7 L634.8,496.3 L636.3,496.9 L637.8,497.5 L639.3,498 L640.8,498.6 L642.3,499.1 L643.8,499.6 L645.3,500.1 L646.8,500.6 L648.3,501 L649.8,501.5 L651.3,501.9 L652.8,502.3 L654.3,502.7 L655.8,503.1 L657.3,503.4 L658.8,503.8 L660.3,504.1 L661.8,504.4 L663.3,504.7 L664.8,504.9 L666.3,505.2 L667.8,505.4 L669.2,505.6 L670.7,505.7 L672.2,505.9 L673.7,506 L675.2,506.1 L676.7,506.2 L678.2,506.3 L679.7,506.3 L681.2,506.3 L682.7,506.3 L684.2,506.3 L685.7,506.3 L687.2,506.2 L688.7,506.1 L690.2,506 L691.7,505.8 L693.2,505.6 L694.7,505.4 L696.2,505.2 L697.7,505 L699.2,504.7 L700.7,504.4 L702.2,504.1 L703.7,503.7 L705.2,503.4 L706.7,503 L708.2,502.5 L709.7,502.1 L711.2,501.6 L712.6,501.1 L714.1,500.5 L715.6,499.9 L717.1,499.3 L718.6,498.7 L720.1,498.1 L721.6,497.4 L723.1,496.7 L724.6,495.9 L726.1,495.1 L727.6,494.3 L729.1,493.5 L730.6,492.6 L732.1,491.7 L733.6,490.8 L735.1,489.8 L736.6,488.9 L738.1,487.9 L739.6,486.8 L741.1,485.8 L742.6,484.7 L744.1,483.6 L745.6,482.5 L747.1,481.3 L748.6,480.2 L750.1,479 L751.6,477.8 L753.1,476.6 L754.5,475.4 L756,474.2 L757.5,472.9 L759,471.7 L760.5,470.4 L762,469.2 L763.5,467.9 L765,466.6 L766.5,465.4 L768,464.1 L769.5,462.8 L771,461.5 L772.5,460.3 L774,459 L775.5,457.7 L777,456.5 L778.5,455.2 L780,454 L781.5,452.7 L783,451.5 L784.5,450.3 L786,449.1 L787.5,447.9 L789,446.7 L790.5,445.6 L792,444.4 L793.5,443.3 L795,442.2 L796.5,441.1 L797.9,440 L799.4,439 L800.9,438 L802.4,437 L803.9,436 L805.4,435.1 L806.9,434.2 L808.4,433.4 L809.9,432.6 L811.4,431.8 L812.9,431.1 L814.4,430.4 L815.9,429.8 L817.4,429.2 L818.9,428.7 L820.4,428.3 L821.9,427.8 L823.4,427.5 L824.9,427.1 L826.4,426.9 L827.9,426.7 L829.4,426.5 L830.9,426.4 L832.4,426.3 L833.9,426.3 L835.4,426.3 L836.9,426.4 L838.4,426.5 L839.9,426.7 L841.3,426.9 L842.8,427.1 L844.3,427.4 L845.8,427.8 L847.3,428.2 L848.8,428.6 L850.3,429.1 L851.8,429.6 L853.3,430.1 L854.8,430.7 L856.3,431.3 L857.8,432 L859.3,432.6 L860.8,433.3 L862.3,434.1 L863.8,434.8 L865.3,435.6 L866.8,436.3 L868.3,437.1 L869.8,437.9 L871.3,438.7 L872.8,439.5 L874.3,440.4 L875.8,441.2 L877.3,442 L878.8,442.9 L880.3,443.7 L881.8,444.5 L883.2,445.3 L884.7,446.1 L886.2,446.9 L887.7,447.7 L889.2,448.4 L890.7,449.2 L892.2,449.9 L893.7,450.6 L895.2,451.3 L896.7,451.9 L898.2,452.6 L899.7,453.1 L901.2,453.7 L902.7,454.2 L904.2,454.7" fill="none" stroke="#FF00FF" stroke-width="3.2" stroke-linejoin="round"/>
<path d="M561.5,484.7 L563,484.7 L564.5,484.7 L566,484.7 L567.5,484.7 L569,484.7 L570.5,484.8 L572,484.9 L573.5,484.9 L575,485 L576.5,485.2 L578,485.3 L579.5,485.5 L581,485.6 L582.5,485.8 L583.9,486.1 L585.4,486.3 L586.9,486.6 L588.4,486.9 L589.9,487.2 L591.4,487.5 L592.9,487.9 L594.4,488.3 L595.9,488.8 L597.4,489.2 L598.9,489.8 L600.4,490.3 L601.9,490.9 L603.4,491.5 L604.9,492.2 L606.4,493 L607.9,493.8 L609.4,494.7 L610.9,495.6 L612.4,496.6 L613.9,497.7 L615.4,498.8 L616.9,500 L618.4,501.2 L619.9,502.4 L621.4,503.6 L622.9,504.8 L624.4,506 L625.8,507.2 L627.3,508.5 L628.8,509.8 L630.3,511 L631.8,512.3 L633.3,513.6 L634.8,514.9 L636.3,516.3 L637.8,517.6 L639.3,518.9 L640.8,520.3 L642.3,521.6 L643.8,523 L645.3,524.3 L646.8,525.7 L648.3,527 L649.8,528.3 L651.3,529.5 L652.8,530.7 L654.3,531.9 L655.8,532.9 L657.3,533.9 L658.8,534.8 L660.3,535.7 L661.8,536.5 L663.3,537.4 L664.8,538.2 L666.3,539 L667.8,539.9 L669.2,540.8 L670.7,541.7 L672.2,542.6 L673.7,543.5 L675.2,544.4 L676.7,545.2 L678.2,546 L679.7,546.8 L681.2,547.5 L682.7,548.2 L684.2,548.8 L685.7,549.4 L687.2,549.9 L688.7,550.3 L690.2,550.7 L691.7,551 L693.2,551.3 L694.7,551.5 L696.2,551.6 L697.7,551.8 L699.2,551.9 L700.7,552.1 L702.2,552.2 L703.7,552.3 L705.2,552.3 L706.7,552.3 L708.2,552.2 L709.7,552 L711.2,551.8 L712.6,551.6 L714.1,551.3 L715.6,550.9 L717.1,550.5 L718.6,550.1 L720.1,549.5 L721.6,549 L723.1,548.3 L724.6,547.6 L726.1,546.8 L727.6,546 L729.1,545.1 L730.6,544.1 L732.1,543 L733.6,541.9 L735.1,540.7 L736.6,539.5 L738.1,538.2 L739.6,536.9 L741.1,535.4 L742.6,533.9 L744.1,532.3 L745.6,530.5 L747.1,528.7 L748.6,526.8 L750.1,524.8 L751.6,522.6 L753.1,520.4 L754.5,518.1 L756,515.7 L757.5,513.2 L759,510.6 L760.5,507.8 L762,504.9 L763.5,501.8 L765,498.6 L766.5,495.3 L768,491.8 L769.5,488.2 L771,484.5 L772.5,480.7 L774,476.9 L775.5,473 L777,469 L778.5,465 L780,461 L781.5,457 L783,452.9 L784.5,448.7 L786,444.6 L787.5,440.4 L789,436.2 L790.5,432.1 L792,427.9 L793.5,423.8 L795,419.8 L796.5,415.7 L797.9,411.8 L799.4,407.9 L800.9,404.2 L802.4,400.4 L803.9,396.8 L805.4,393.2 L806.9,389.7 L808.4,386.4 L809.9,383.1 L811.4,379.9 L812.9,376.9 L814.4,374 L815.9,371.2 L817.4,368.6 L818.9,366.1 L820.4,363.8 L821.9,361.7 L823.4,359.7 L824.9,357.9 L826.4,356.4 L827.9,354.9 L829.4,353.7 L830.9,352.6 L832.4,351.7 L833.9,351 L835.4,350.4 L836.9,350 L838.4,349.8 L839.9,349.7 L841.3,349.7 L842.8,349.8 L844.3,350.1 L845.8,350.6 L847.3,351.1 L848.8,351.8 L850.3,352.6 L851.8,353.4 L853.3,354.4 L854.8,355.5 L856.3,356.7 L857.8,357.9 L859.3,359.3 L860.8,360.7 L862.3,362.2 L863.8,363.8 L865.3,365.4 L866.8,367.1 L868.3,368.8 L869.8,370.6 L871.3,372.5 L872.8,374.4 L874.3,376.4 L875.8,378.4 L877.3,380.4 L878.8,382.5 L880.3,384.6 L881.8,386.8 L883.2,389 L884.7,391.2 L886.2,393.4 L887.7,395.7 L889.2,398 L890.7,400.4 L892.2,402.8 L893.7,405.3 L895.2,407.9 L896.7,410.5 L898.2,413.1 L899.7,415.7 L901.2,418.4 L902.7,421.1 L904.2,423.8 L904.2,464.7 L902.7,462.3 L901.2,459.9 L899.7,457.5 L898.2,455.2 L896.7,452.8 L895.2,450.5 L893.7,448.2 L892.2,445.9 L890.7,443.6 L889.2,441.2 L887.7,438.9 L886.2,436.6 L884.7,434.4 L883.2,432.1 L881.8,429.9 L880.3,427.8 L878.8,425.6 L877.3,423.5 L875.8,421.5 L874.3,419.5 L872.8,417.5 L871.3,415.6 L869.8,413.7 L868.3,411.9 L866.8,410.1 L865.3,408.4 L863.8,406.8 L862.3,405.2 L860.8,403.7 L859.3,402.3 L857.8,401 L856.3,399.8 L854.8,398.7 L853.3,397.7 L851.8,396.8 L850.3,396 L848.8,395.3 L847.3,394.8 L845.8,394.3 L844.3,394 L842.8,393.7 L841.3,393.6 L839.9,393.6 L838.4,393.8 L836.9,394 L835.4,394.4 L833.9,394.9 L832.4,395.5 L830.9,396.3 L829.4,397.2 L827.9,398.2 L826.4,399.4 L824.9,400.7 L823.4,402.2 L821.9,403.8 L820.4,405.6 L818.9,407.5 L817.4,409.6 L815.9,411.9 L814.4,414.2 L812.9,416.7 L811.4,419.3 L809.9,422 L808.4,424.9 L806.9,427.8 L805.4,430.8 L803.9,434 L802.4,437.2 L800.9,440.4 L799.4,443.8 L797.9,447.1 L796.5,450.5 L795,454 L793.5,457.4 L792,460.9 L790.5,464.3 L789,467.8 L787.5,471.3 L786,474.9 L784.5,478.4 L783,481.9 L781.5,485.5 L780,489 L778.5,492.5 L777,496 L775.5,499.4 L774,502.8 L772.5,506.1 L771,509.4 L769.5,512.6 L768,515.8 L766.5,518.9 L765,522 L763.5,525.1 L762,528.1 L760.5,531.1 L759,534.1 L757.5,537 L756,539.9 L754.5,542.7 L753.1,545.4 L751.6,548 L750.1,550.6 L748.6,553.1 L747.1,555.6 L745.6,557.9 L744.1,560.2 L742.6,562.4 L741.1,564.6 L739.6,566.7 L738.1,568.7 L736.6,570.6 L735.1,572.5 L733.6,574.2 L732.1,575.8 L730.6,577.3 L729.1,578.7 L727.6,580 L726.1,581.3 L724.6,582.4 L723.1,583.5 L721.6,584.5 L720.1,585.4 L718.6,586.2 L717.1,586.9 L715.6,587.5 L714.1,588.1 L712.6,588.5 L711.2,588.9 L709.7,589.2 L708.2,589.4 L706.7,589.6 L705.2,589.7 L703.7,589.7 L702.2,589.7 L700.7,589.6 L699.2,589.3 L697.7,589 L696.2,588.6 L694.7,588.2 L693.2,587.6 L691.7,587 L690.2,586.4 L688.7,585.7 L687.2,585 L685.7,584.3 L684.2,583.6 L682.7,582.8 L681.2,582.1 L679.7,581.3 L678.2,580.5 L676.7,579.6 L675.2,578.7 L673.7,577.8 L672.2,576.8 L670.7,575.9 L669.2,574.8 L667.8,573.7 L666.3,572.5 L664.8,571.3 L663.3,570 L661.8,568.6 L660.3,567.3 L658.8,565.9 L657.3,564.5 L655.8,563.2 L654.3,561.9 L652.8,560.7 L651.3,559.6 L649.8,558.4 L648.3,557.3 L646.8,556.2 L645.3,555.2 L643.8,554.1 L642.3,553.1 L640.8,552.1 L639.3,551 L637.8,550 L636.3,549 L634.8,548 L633.3,547 L631.8,546.1 L630.3,545.1 L628.8,544.2 L627.3,543.4 L625.8,542.5 L624.4,541.7 L622.9,540.9 L621.4,540.2 L619.9,539.5 L618.4,538.9 L616.9,538.4 L615.4,537.9 L613.9,537.4 L612.4,537 L610.9,536.6 L609.4,536.2 L607.9,535.8 L606.4,535.5 L604.9,535.1 L603.4,534.7 L601.9,534.4 L600.4,534 L598.9,533.7 L597.4,533.4 L595.9,533.2 L594.4,533 L592.9,532.8 L591.4,532.6 L589.9,532.4 L588.4,532.3 L586.9,532.2 L585.4,532.1 L583.9,532 L582.5,531.9 L581,531.9 L579.5,531.9 L578,531.9 L576.5,531.9 L575,532 L573.5,532 L572,532.1 L570.5,532.1 L569,532.2 L567.5,532.3 L566,532.4 L564.5,532.5 L563,532.6 L561.5,532.7 Z" fill="rgba(0,0,0,0.2)" stroke="none"/>
<path d="M561.5,508.7 L563,508.6 L564.5,508.6 L566,508.5 L567.5,508.5 L569,508.5 L570.5,508.5 L572,508.5 L573.5,508.5 L575,508.5 L576.5,508.5 L578,508.6 L579.5,508.7 L581,508.8 L582.5,508.9 L583.9,509 L585.4,509.2 L586.9,509.4 L588.4,509.6 L589.9,509.8 L591.4,510.1 L592.9,510.3 L594.4,510.6 L595.9,511 L597.4,511.3 L598.9,511.7 L600.4,512.2 L601.9,512.6 L603.4,513.1 L604.9,513.6 L606.4,514.2 L607.9,514.8 L609.4,515.4 L610.9,516.1 L612.4,516.8 L613.9,517.6 L615.4,518.4 L616.9,519.2 L618.4,520.1 L619.9,521 L621.4,521.9 L622.9,522.9 L624.4,523.9 L625.8,524.9 L627.3,525.9 L628.8,527 L630.3,528.1 L631.8,529.2 L633.3,530.3 L634.8,531.5 L636.3,532.6 L637.8,533.8 L639.3,535 L640.8,536.2 L642.3,537.4 L643.8,538.6 L645.3,539.8 L646.8,541 L648.3,542.2 L649.8,543.4 L651.3,544.5 L652.8,545.7 L654.3,546.9 L655.8,548.1 L657.3,549.2 L658.8,550.4 L660.3,551.5 L661.8,552.6 L663.3,553.7 L664.8,554.7 L666.3,555.8 L667.8,556.8 L669.2,557.8 L670.7,558.8 L672.2,559.7 L673.7,560.7 L675.2,561.6 L676.7,562.4 L678.2,563.2 L679.7,564 L681.2,564.8 L682.7,565.5 L684.2,566.2 L685.7,566.9 L687.2,567.5 L688.7,568 L690.2,568.5 L691.7,569 L693.2,569.4 L694.7,569.8 L696.2,570.1 L697.7,570.4 L699.2,570.6 L700.7,570.8 L702.2,570.9 L703.7,571 L705.2,571 L706.7,570.9 L708.2,570.8 L709.7,570.6 L711.2,570.4 L712.6,570.1 L714.1,569.7 L715.6,569.2 L717.1,568.7 L718.6,568.1 L720.1,567.5 L721.6,566.7 L723.1,565.9 L724.6,565 L726.1,564 L727.6,563 L729.1,561.9 L730.6,560.7 L732.1,559.4 L733.6,558 L735.1,556.6 L736.6,555.1 L738.1,553.5 L739.6,551.8 L741.1,550 L742.6,548.2 L744.1,546.2 L745.6,544.2 L747.1,542.1 L748.6,539.9 L750.1,537.7 L751.6,535.3 L753.1,532.9 L754.5,530.4 L756,527.8 L757.5,525.1 L759,522.3 L760.5,519.4 L762,516.5 L763.5,513.5 L765,510.3 L766.5,507.1 L768,503.8 L769.5,500.4 L771,497 L772.5,493.4 L774,489.8 L775.5,486.2 L777,482.5 L778.5,478.8 L780,475 L781.5,471.2 L783,467.4 L784.5,463.6 L786,459.7 L787.5,455.9 L789,452 L790.5,448.2 L792,444.4 L793.5,440.6 L795,436.9 L796.5,433.1 L797.9,429.5 L799.4,425.9 L800.9,422.3 L802.4,418.8 L803.9,415.4 L805.4,412 L806.9,408.8 L808.4,405.6 L809.9,402.6 L811.4,399.6 L812.9,396.8 L814.4,394.1 L815.9,391.5 L817.4,389.1 L818.9,386.8 L820.4,384.7 L821.9,382.7 L823.4,380.9 L824.9,379.3 L826.4,377.9 L827.9,376.6 L829.4,375.4 L830.9,374.5 L832.4,373.6 L833.9,372.9 L835.4,372.4 L836.9,372 L838.4,371.8 L839.9,371.6 L841.3,371.6 L842.8,371.8 L844.3,372 L845.8,372.4 L847.3,372.9 L848.8,373.6 L850.3,374.3 L851.8,375.1 L853.3,376.1 L854.8,377.1 L856.3,378.3 L857.8,379.5 L859.3,380.8 L860.8,382.2 L862.3,383.7 L863.8,385.3 L865.3,386.9 L866.8,388.6 L868.3,390.3 L869.8,392.2 L871.3,394 L872.8,396 L874.3,397.9 L875.8,399.9 L877.3,402 L878.8,404.1 L880.3,406.2 L881.8,408.4 L883.2,410.6 L884.7,412.8 L886.2,415 L887.7,417.3 L889.2,419.6 L890.7,422 L892.2,424.4 L893.7,426.8 L895.2,429.2 L896.7,431.6 L898.2,434.1 L899.7,436.6 L901.2,439.2 L902.7,441.7 L904.2,444.3" fill="none" stroke="#000000" stroke-width="3.2" stroke-linejoin="round"/>
<path d="M561.5,487.8 L563,487.8 L564.5,487.9 L566,488 L567.5,488.1 L569,488.2 L570.5,488.4 L572,488.5 L573.5,488.7 L575,488.8 L576.5,489 L578,489.2 L579.5,489.4 L581,489.6 L582.5,489.9 L583.9,490.1 L585.4,490.3 L586.9,490.6 L588.4,490.8 L589.9,491.1 L591.4,491.4 L592.9,491.6 L594.4,491.9 L595.9,492.2 L597.4,492.5 L598.9,492.8 L600.4,493.1 L601.9,493.4 L603.4,493.8 L604.9,494.1 L606.4,494.4 L607.9,494.7 L609.4,495.1 L610.9,495.4 L612.4,495.7 L613.9,496.1 L615.4,496.4 L616.9,496.7 L618.4,497.1 L619.9,497.4 L621.4,497.8 L622.9,498.1 L624.4,498.4 L625.8,498.8 L627.3,499.1 L628.8,499.4 L630.3,499.8 L631.8,500.1 L633.3,500.4 L634.8,500.7 L636.3,501.1 L637.8,501.4 L639.3,501.7 L640.8,502 L642.3,502.3 L643.8,502.6 L645.3,502.9 L646.8,503.2 L648.3,503.4 L649.8,503.7 L651.3,504 L652.8,504.2 L654.3,504.5 L655.8,504.7 L657.3,504.9 L658.8,505.1 L660.3,505.3 L661.8,505.5 L663.3,505.7 L664.8,505.9 L666.3,506.1 L667.8,506.3 L669.2,506.4 L670.7,506.6 L672.2,506.7 L673.7,506.9 L675.2,507 L676.7,507.1 L678.2,507.2 L679.7,507.3 L681.2,507.4 L682.7,507.5 L684.2,507.5 L685.7,507.5 L687.2,507.5 L688.7,507.5 L690.2,507.4 L691.7,507.3 L693.2,507.2 L694.7,507.1 L696.2,507 L697.7,506.8 L699.2,506.7 L700.7,506.5 L702.2,506.3 L703.7,506.1 L705.2,505.8 L706.7,505.6 L708.2,505.3 L709.7,505 L711.2,504.7 L712.6,504.4 L714.1,504 L715.6,503.6 L717.1,503.2 L718.6,502.8 L720.1,502.4 L721.6,502 L723.1,501.5 L724.6,501 L726.1,500.5 L727.6,500 L729.1,499.4 L730.6,498.9 L732.1,498.3 L733.6,497.7 L735.1,497 L736.6,496.4 L738.1,495.7 L739.6,495 L741.1,494.3 L742.6,493.6 L744.1,492.8 L745.6,492 L747.1,491.2 L748.6,490.3 L750.1,489.5 L751.6,488.6 L753.1,487.7 L754.5,486.7 L756,485.8 L757.5,484.8 L759,483.8 L760.5,482.7 L762,481.7 L763.5,480.6 L765,479.5 L766.5,478.3 L768,477.1 L769.5,475.9 L771,474.7 L772.5,473.5 L774,472.2 L775.5,470.9 L777,469.6 L778.5,468.2 L780,466.9 L781.5,465.4 L783,464 L784.5,462.5 L786,461 L787.5,459.5 L789,457.9 L790.5,456.3 L792,454.7 L793.5,453 L795,451.3 L796.5,449.6 L797.9,447.9 L799.4,446.2 L800.9,444.5 L802.4,442.7 L803.9,441 L805.4,439.3 L806.9,437.6 L808.4,436 L809.9,434.4 L811.4,432.8 L812.9,431.3 L814.4,429.8 L815.9,428.4 L817.4,427 L818.9,425.8 L820.4,424.6 L821.9,423.5 L823.4,422.4 L824.9,421.5 L826.4,420.6 L827.9,419.9 L829.4,419.1 L830.9,418.5 L832.4,417.9 L833.9,417.4 L835.4,417 L836.9,416.7 L838.4,416.4 L839.9,416.1 L841.3,415.9 L842.8,415.8 L844.3,415.8 L845.8,415.8 L847.3,415.8 L848.8,415.9 L850.3,416 L851.8,416.2 L853.3,416.5 L854.8,416.7 L856.3,417 L857.8,417.4 L859.3,417.7 L860.8,418.1 L862.3,418.6 L863.8,419 L865.3,419.5 L866.8,420.1 L868.3,420.6 L869.8,421.2 L871.3,421.7 L872.8,422.3 L874.3,423 L875.8,423.6 L877.3,424.2 L878.8,424.9 L880.3,425.5 L881.8,426.2 L883.2,426.8 L884.7,427.5 L886.2,428.2 L887.7,428.8 L889.2,429.5 L890.7,430.1 L892.2,430.8 L893.7,431.4 L895.2,432 L896.7,432.6 L898.2,433.2 L899.7,433.8 L901.2,434.4 L902.7,434.9 L904.2,435.4 L904.2,461.4 L902.7,460.9 L901.2,460.4 L899.7,459.8 L898.2,459.2 L896.7,458.6 L895.2,458 L893.7,457.4 L892.2,456.8 L890.7,456.1 L889.2,455.5 L887.7,454.8 L886.2,454.2 L884.7,453.5 L883.2,452.8 L881.8,452.2 L880.3,451.5 L878.8,450.9 L877.3,450.2 L875.8,449.6 L874.3,449 L872.8,448.3 L871.3,447.7 L869.8,447.2 L868.3,446.6 L866.8,446.1 L865.3,445.5 L863.8,445 L862.3,444.6 L860.8,444.1 L859.3,443.7 L857.8,443.4 L856.3,443 L854.8,442.7 L853.3,442.5 L851.8,442.2 L850.3,442 L848.8,441.9 L847.3,441.8 L845.8,441.8 L844.3,441.8 L842.8,441.8 L841.3,441.9 L839.9,442.1 L838.4,442.3 L836.9,442.6 L835.4,442.9 L833.9,443.3 L832.4,443.8 L830.9,444.3 L829.4,444.9 L827.9,445.5 L826.4,446.3 L824.9,447.1 L823.4,447.9 L821.9,448.9 L820.4,449.9 L818.9,451 L817.4,452.2 L815.9,453.5 L814.4,454.8 L812.9,456.2 L811.4,457.6 L809.9,459.1 L808.4,460.6 L806.9,462.2 L805.4,463.8 L803.9,465.4 L802.4,467 L800.9,468.6 L799.4,470.2 L797.9,471.8 L796.5,473.5 L795,475 L793.5,476.6 L792,478.2 L790.5,479.7 L789,481.2 L787.5,482.7 L786,484.1 L784.5,485.5 L783,486.9 L781.5,488.2 L780,489.5 L778.5,490.8 L777,492 L775.5,493.3 L774,494.5 L772.5,495.6 L771,496.8 L769.5,497.9 L768,499 L766.5,500.1 L765,501.2 L763.5,502.2 L762,503.2 L760.5,504.2 L759,505.2 L757.5,506.2 L756,507.1 L754.5,508 L753.1,508.9 L751.6,509.8 L750.1,510.6 L748.6,511.4 L747.1,512.3 L745.6,513 L744.1,513.8 L742.6,514.6 L741.1,515.3 L739.6,516 L738.1,516.7 L736.6,517.4 L735.1,518 L733.6,518.7 L732.1,519.3 L730.6,519.9 L729.1,520.4 L727.6,521 L726.1,521.5 L724.6,522 L723.1,522.5 L721.6,523 L720.1,523.4 L718.6,523.8 L717.1,524.2 L715.6,524.6 L714.1,525 L712.6,525.4 L711.2,525.7 L709.7,526 L708.2,526.3 L706.7,526.6 L705.2,526.8 L703.7,527.1 L702.2,527.3 L700.7,527.5 L699.2,527.7 L697.7,527.8 L696.2,528 L694.7,528.1 L693.2,528.2 L691.7,528.3 L690.2,528.4 L688.7,528.5 L687.2,528.5 L685.7,528.6 L684.2,528.6 L682.7,528.6 L681.2,528.6 L679.7,528.6 L678.2,528.6 L676.7,528.6 L675.2,528.6 L673.7,528.5 L672.2,528.5 L670.7,528.4 L669.2,528.3 L667.8,528.2 L666.3,528 L664.8,527.9 L663.3,527.7 L661.8,527.5 L660.3,527.3 L658.8,527.1 L657.3,526.9 L655.8,526.7 L654.3,526.4 L652.8,526.2 L651.3,526 L649.8,525.7 L648.3,525.4 L646.8,525.1 L645.3,524.9 L643.8,524.6 L642.3,524.3 L640.8,524 L639.3,523.7 L637.8,523.3 L636.3,523 L634.8,522.7 L633.3,522.4 L631.8,522 L630.3,521.7 L628.8,521.4 L627.3,521 L625.8,520.7 L624.4,520.3 L622.9,520 L621.4,519.6 L619.9,519.3 L618.4,518.9 L616.9,518.6 L615.4,518.2 L613.9,517.8 L612.4,517.5 L610.9,517.1 L609.4,516.8 L607.9,516.4 L606.4,516.1 L604.9,515.7 L603.4,515.4 L601.9,515 L600.4,514.7 L598.9,514.3 L597.4,514 L595.9,513.7 L594.4,513.3 L592.9,513 L591.4,512.7 L589.9,512.4 L588.4,512.1 L586.9,511.7 L585.4,511.4 L583.9,511.2 L582.5,510.9 L581,510.6 L579.5,510.3 L578,510.1 L576.5,509.8 L575,509.6 L573.5,509.3 L572,509.1 L570.5,508.9 L569,508.7 L567.5,508.5 L566,508.3 L564.5,508.1 L563,507.9 L561.5,507.8 Z" fill="rgba(147,147,147,0.21)" stroke="none"/>
<path d="M561.5,497.8 L563,497.9 L564.5,498 L566,498.1 L567.5,498.3 L569,498.5 L570.5,498.6 L572,498.8 L573.5,499 L575,499.2 L576.5,499.4 L578,499.6 L579.5,499.9 L581,500.1 L582.5,500.4 L583.9,500.6 L585.4,500.9 L586.9,501.2 L588.4,501.4 L589.9,501.7 L591.4,502 L592.9,502.3 L594.4,502.6 L595.9,502.9 L597.4,503.3 L598.9,503.6 L600.4,503.9 L601.9,504.2 L603.4,504.6 L604.9,504.9 L606.4,505.2 L607.9,505.6 L609.4,505.9 L610.9,506.3 L612.4,506.6 L613.9,506.9 L615.4,507.3 L616.9,507.6 L618.4,508 L619.9,508.3 L621.4,508.7 L622.9,509 L624.4,509.4 L625.8,509.7 L627.3,510.1 L628.8,510.4 L630.3,510.7 L631.8,511.1 L633.3,511.4 L634.8,511.7 L636.3,512 L637.8,512.4 L639.3,512.7 L640.8,513 L642.3,513.3 L643.8,513.6 L645.3,513.9 L646.8,514.1 L648.3,514.4 L649.8,514.7 L651.3,515 L652.8,515.2 L654.3,515.4 L655.8,515.7 L657.3,515.9 L658.8,516.1 L660.3,516.3 L661.8,516.5 L663.3,516.7 L664.8,516.9 L666.3,517.1 L667.8,517.2 L669.2,517.4 L670.7,517.5 L672.2,517.6 L673.7,517.7 L675.2,517.8 L676.7,517.9 L678.2,517.9 L679.7,518 L681.2,518 L682.7,518 L684.2,518 L685.7,518 L687.2,518 L688.7,518 L690.2,517.9 L691.7,517.8 L693.2,517.7 L694.7,517.6 L696.2,517.5 L697.7,517.3 L699.2,517.2 L700.7,517 L702.2,516.8 L703.7,516.6 L705.2,516.3 L706.7,516.1 L708.2,515.8 L709.7,515.5 L711.2,515.2 L712.6,514.9 L714.1,514.5 L715.6,514.1 L717.1,513.7 L718.6,513.3 L720.1,512.9 L721.6,512.5 L723.1,512 L724.6,511.5 L726.1,511 L727.6,510.5 L729.1,509.9 L730.6,509.4 L732.1,508.8 L733.6,508.2 L735.1,507.5 L736.6,506.9 L738.1,506.2 L739.6,505.5 L741.1,504.8 L742.6,504.1 L744.1,503.3 L745.6,502.5 L747.1,501.7 L748.6,500.9 L750.1,500 L751.6,499.2 L753.1,498.3 L754.5,497.4 L756,496.4 L757.5,495.5 L759,494.5 L760.5,493.5 L762,492.4 L763.5,491.4 L765,490.3 L766.5,489.2 L768,488.1 L769.5,486.9 L771,485.8 L772.5,484.6 L774,483.3 L775.5,482.1 L777,480.8 L778.5,479.5 L780,478.2 L781.5,476.8 L783,475.4 L784.5,474 L786,472.6 L787.5,471.1 L789,469.6 L790.5,468 L792,466.4 L793.5,464.8 L795,463.2 L796.5,461.5 L797.9,459.9 L799.4,458.2 L800.9,456.5 L802.4,454.9 L803.9,453.2 L805.4,451.5 L806.9,449.9 L808.4,448.3 L809.9,446.7 L811.4,445.2 L812.9,443.7 L814.4,442.3 L815.9,440.9 L817.4,439.6 L818.9,438.4 L820.4,437.2 L821.9,436.2 L823.4,435.2 L824.9,434.3 L826.4,433.4 L827.9,432.7 L829.4,432 L830.9,431.4 L832.4,430.9 L833.9,430.4 L835.4,430 L836.9,429.6 L838.4,429.3 L839.9,429.1 L841.3,428.9 L842.8,428.8 L844.3,428.8 L845.8,428.8 L847.3,428.8 L848.8,428.9 L850.3,429 L851.8,429.2 L853.3,429.5 L854.8,429.7 L856.3,430 L857.8,430.4 L859.3,430.7 L860.8,431.1 L862.3,431.6 L863.8,432 L865.3,432.5 L866.8,433.1 L868.3,433.6 L869.8,434.2 L871.3,434.7 L872.8,435.3 L874.3,436 L875.8,436.6 L877.3,437.2 L878.8,437.9 L880.3,438.5 L881.8,439.2 L883.2,439.8 L884.7,440.5 L886.2,441.2 L887.7,441.8 L889.2,442.5 L890.7,443.1 L892.2,443.8 L893.7,444.4 L895.2,445 L896.7,445.6 L898.2,446.2 L899.7,446.8 L901.2,447.4 L902.7,447.9 L904.2,448.4" fill="none" stroke="#939393" stroke-width="3.2" stroke-linejoin="round"/>
</g>

<path d="M90.1,62.8 H77.3 V631.6 H418.4" fill="none" stroke="#000" stroke-width="1.3"/>
<line x1="77.3" y1="631.6" x2="90.1" y2="631.6" stroke="#000" stroke-width="1.3"/>
<line x1="77.3" y1="550.4" x2="90.1" y2="550.4" stroke="#000" stroke-width="1.3"/>
<line x1="77.3" y1="469.1" x2="90.1" y2="469.1" stroke="#000" stroke-width="1.3"/>
<line x1="77.3" y1="387.8" x2="90.1" y2="387.8" stroke="#000" stroke-width="1.3"/>
<line x1="77.3" y1="306.6" x2="90.1" y2="306.6" stroke="#000" stroke-width="1.3"/>
<line x1="77.3" y1="225.3" x2="90.1" y2="225.3" stroke="#000" stroke-width="1.3"/>
<line x1="77.3" y1="144.1" x2="90.1" y2="144.1" stroke="#000" stroke-width="1.3"/>
<line x1="190.2" y1="631.6" x2="190.2" y2="619" stroke="#000" stroke-width="1.3"/>
<line x1="304.3" y1="631.6" x2="304.3" y2="619" stroke="#000" stroke-width="1.3"/>
<line x1="418.4" y1="631.6" x2="418.4" y2="619" stroke="#000" stroke-width="1.3"/>
<line x1="304.3" y1="65.2" x2="304.3" y2="631" stroke="#000" stroke-width="2" stroke-dasharray="2.4 7.15"/>

<path d="M574.3,62.8 H561.5 V631.6 H902.4" fill="none" stroke="#000" stroke-width="1.3"/>
<line x1="561.5" y1="631.6" x2="574.3" y2="631.6" stroke="#000" stroke-width="1.3"/>
<line x1="561.5" y1="550.4" x2="574.3" y2="550.4" stroke="#000" stroke-width="1.3"/>
<line x1="561.5" y1="469.1" x2="574.3" y2="469.1" stroke="#000" stroke-width="1.3"/>
<line x1="561.5" y1="387.8" x2="574.3" y2="387.8" stroke="#000" stroke-width="1.3"/>
<line x1="561.5" y1="306.6" x2="574.3" y2="306.6" stroke="#000" stroke-width="1.3"/>
<line x1="561.5" y1="225.3" x2="574.3" y2="225.3" stroke="#000" stroke-width="1.3"/>
<line x1="561.5" y1="144.1" x2="574.3" y2="144.1" stroke="#000" stroke-width="1.3"/>
<line x1="674.2" y1="631.6" x2="674.2" y2="619" stroke="#000" stroke-width="1.3"/>
<line x1="788.3" y1="631.6" x2="788.3" y2="619" stroke="#000" stroke-width="1.3"/>
<line x1="902.4" y1="631.6" x2="902.4" y2="619" stroke="#000" stroke-width="1.3"/>
<line x1="788.3" y1="65.2" x2="788.3" y2="631" stroke="#000" stroke-width="2" stroke-dasharray="2.4 7.15"/>

<text x="0.5" y="30.3" font-size="38" font-weight="bold" stroke="#000" stroke-width="1.3" stroke-linejoin="round">a</text>
<text x="484.3" y="29" font-size="38" font-weight="bold" stroke="#000" stroke-width="1.3" stroke-linejoin="round" textLength="25.5" lengthAdjust="spacingAndGlyphs">b</text>
<text x="217" y="46.4" font-size="26.5" textLength="61.5" lengthAdjust="spacingAndGlyphs">dPC1</text>
<text x="699" y="45.9" font-size="26.5" textLength="66.5" lengthAdjust="spacingAndGlyphs">dPC2</text>
<text x="64.4" y="641.8" font-size="23" text-anchor="end" textLength="23.5" lengthAdjust="spacingAndGlyphs">−2</text>
<text x="64.4" y="560.6" font-size="23" text-anchor="end" textLength="23.5" lengthAdjust="spacingAndGlyphs">−1</text>
<text x="64.4" y="479.3" font-size="23" text-anchor="end">0</text>
<text x="64.4" y="398" font-size="23" text-anchor="end">1</text>
<text x="64.4" y="316.8" font-size="23" text-anchor="end">2</text>
<text x="64.4" y="235.5" font-size="23" text-anchor="end">3</text>
<text x="64.4" y="154.3" font-size="23" text-anchor="end">4</text>
<text x="64.4" y="73" font-size="23" text-anchor="end">5</text>
<text x="548.2" y="641.8" font-size="23" text-anchor="end" textLength="23.5" lengthAdjust="spacingAndGlyphs">−2</text>
<text x="548.2" y="560.6" font-size="23" text-anchor="end" textLength="23.5" lengthAdjust="spacingAndGlyphs">−1</text>
<text x="548.2" y="479.3" font-size="23" text-anchor="end">0</text>
<text x="548.2" y="398" font-size="23" text-anchor="end">1</text>
<text x="548.2" y="316.8" font-size="23" text-anchor="end">2</text>
<text x="548.2" y="235.5" font-size="23" text-anchor="end">3</text>
<text x="548.2" y="154.3" font-size="23" text-anchor="end">4</text>
<text x="548.2" y="73" font-size="23" text-anchor="end">5</text>
<text x="187" y="666.8" font-size="23" text-anchor="middle" textLength="23.5" lengthAdjust="spacingAndGlyphs">−1</text>
<text x="302.8" y="666.8" font-size="23" text-anchor="middle">0</text>
<text x="416.7" y="666.8" font-size="23" text-anchor="middle">1</text>
<text x="672.7" y="666.8" font-size="23" text-anchor="middle" textLength="23.5" lengthAdjust="spacingAndGlyphs">−1</text>
<text x="788.8" y="666.8" font-size="23" text-anchor="middle">0</text>
<text x="902.3" y="666.8" font-size="23" text-anchor="middle">1</text>
<text x="84" y="706.6" font-size="27.5" textLength="328" lengthAdjust="spacingAndGlyphs">Time from probe onset (s)</text>
<text x="570.5" y="706.6" font-size="27.5" textLength="328" lengthAdjust="spacingAndGlyphs">Time from probe onset (s)</text>
<text transform="translate(24.1,481.6) rotate(-90)" font-size="27.5" textLength="270" lengthAdjust="spacingAndGlyphs">Component’s activity</text>
<text transform="translate(507.3,481.6) rotate(-90)" font-size="27.5" textLength="270" lengthAdjust="spacingAndGlyphs">Component’s activity</text>

<rect x="1036.9" y="199.2" width="48.6" height="30.2" fill="#FFCCCC"/>
<line x1="1023.4" y1="214.3" x2="1098.7" y2="214.3" stroke="#FF0000" stroke-width="6.1"/>
<text x="1113.5" y="223.3" font-size="28.5" textLength="365.5" lengthAdjust="spacingAndGlyphs">Cued pref. in (mean ± s.e.m.)</text>
<rect x="1036.9" y="267.8" width="48.6" height="30.2" fill="#FFCCFF"/>
<line x1="1023.4" y1="282.9" x2="1098.7" y2="282.9" stroke="#FF00FF" stroke-width="6.1"/>
<text x="1113.5" y="291.9" font-size="28.5" textLength="385.5" lengthAdjust="spacingAndGlyphs">Cued pref. out (mean ± s.e.m.)</text>
<rect x="1036.9" y="336.4" width="48.6" height="30.2" fill="#CCCCCC"/>
<line x1="1023.4" y1="351.5" x2="1098.7" y2="351.5" stroke="#000000" stroke-width="6.1"/>
<text x="1113.5" y="360.5" font-size="28.5" textLength="371" lengthAdjust="spacingAndGlyphs">Other pref. in (mean ± s.e.m.)</text>
<rect x="1036.9" y="405" width="48.6" height="30.2" fill="#E8E8E8"/>
<line x1="1023.4" y1="420.1" x2="1098.7" y2="420.1" stroke="#787878" stroke-width="6.1"/>
<text x="1113.5" y="429.1" font-size="28.5" textLength="390.5" lengthAdjust="spacingAndGlyphs">Other pref. out (mean ± s.e.m.)</text>

<path d="M99.9,803.7 H87.1 V1315.3 H976.8" fill="none" stroke="#000" stroke-width="1.45"/>
<line x1="87.1" y1="937.5" x2="99.9" y2="937.5" stroke="#000" stroke-width="1.3"/>
<line x1="87.1" y1="1064.7" x2="99.9" y2="1064.7" stroke="#000" stroke-width="1.3"/>
<line x1="87.1" y1="1192.9" x2="99.9" y2="1192.9" stroke="#000" stroke-width="1.3"/>
<text x="72.6" y="816.5" font-size="23" text-anchor="end">100</text>
<text x="72.6" y="944.7" font-size="23" text-anchor="end">75</text>
<text x="72.6" y="1071.9" font-size="23" text-anchor="end">50</text>
<text x="72.6" y="1200.1" font-size="23" text-anchor="end">25</text>
<text transform="translate(21.8,1204.6) rotate(-90)" font-size="27.5" textLength="290.3" lengthAdjust="spacingAndGlyphs">Decoding accuracy (%)</text>
<text x="0.5" y="790.3" font-size="38" font-weight="bold" stroke="#000" stroke-width="1.3" stroke-linejoin="round">c</text>
<path d="M198.6,854.8 L198.6,856.7 L198.6,858.7 L198.6,860.6 L198.6,862.6 L198.6,864.5 L198.6,866.5 L198.7,868.4 L198.7,870.4 L198.7,872.3 L198.7,874.3 L198.7,876.2 L198.7,878.2 L198.8,880.1 L198.8,882 L198.8,884 L198.8,885.9 L198.9,887.9 L198.9,889.8 L198.9,891.8 L198.9,893.7 L199,895.7 L199,897.6 L199,899.6 L199.1,901.5 L199.1,903.5 L199.2,905.4 L199.2,907.3 L199.3,909.3 L199.3,911.2 L199.4,913.2 L199.4,915.1 L199.5,917.1 L199.6,919 L199.7,921 L199.8,922.9 L199.9,924.9 L200.1,926.8 L200.2,928.8 L200.4,930.7 L200.7,932.6 L200.9,934.6 L201.1,936.5 L201.4,938.5 L201.6,940.4 L201.9,942.4 L202.1,944.3 L202.4,946.3 L202.7,948.2 L203,950.2 L203.4,952.1 L203.8,954.1 L204.2,956 L204.7,958 L205.3,959.9 L205.9,961.8 L206.5,963.8 L207.2,965.7 L207.9,967.7 L208.7,969.6 L209.6,971.6 L210.6,973.5 L211.7,975.5 L212.8,977.4 L214,979.4 L215.2,981.3 L216.4,983.3 L217.6,985.2 L218.8,987.1 L220.2,989.1 L221.5,991 L222.8,993 L224.1,994.9 L225.3,996.9 L226.4,998.8 L227.6,1000.8 L228.7,1002.7 L229.6,1004.7 L230.2,1006.6 L230.7,1008.6 L231.3,1010.5 L231.7,1012.4 L232,1014.4 L232.2,1016.3 L232.3,1018.3 L232.1,1020.2 L231.8,1022.2 L231.3,1024.1 L230.7,1026.1 L230.1,1028 L229.6,1030 L229,1031.9 L228.4,1033.9 L227.7,1035.8 L227,1037.7 L226.4,1039.7 L225.8,1041.6 L225.2,1043.6 L224.7,1045.5 L224.1,1047.5 L223.5,1049.4 L222.8,1051.4 L222,1053.3 L221.2,1055.3 L220.3,1057.2 L219.6,1059.2 L218.9,1061.1 L218.3,1063 L217.6,1065 L216.9,1066.9 L216.3,1068.9 L215.8,1070.8 L215.2,1072.8 L214.7,1074.7 L214.3,1076.7 L213.9,1078.6 L213.6,1080.6 L213.2,1082.5 L212.9,1084.5 L212.6,1086.4 L212.3,1088.3 L212,1090.3 L211.8,1092.2 L211.6,1094.2 L211.4,1096.1 L211.2,1098.1 L211.1,1100 L211,1102 L210.9,1103.9 L210.8,1105.9 L210.8,1107.8 L210.7,1109.8 L210.6,1111.7 L210.5,1113.6 L210.5,1115.6 L210.5,1117.5 L210.4,1119.5 L210.4,1121.4 L210.4,1123.4 L210.4,1125.3 L210.6,1127.3 L210.7,1129.2 L210.9,1131.2 L211.1,1133.1 L211.3,1135.1 L211.5,1137 L211.7,1138.9 L211.9,1140.9 L212.2,1142.8 L212.5,1144.8 L212.8,1146.7 L213.1,1148.7 L213.3,1150.6 L213.5,1152.6 L213.7,1154.5 L213.8,1156.5 L213.8,1158.4 L213.7,1160.4 L213.5,1162.3 L213.2,1164.3 L212.8,1166.2 L212.3,1168.1 L211.9,1170.1 L211.4,1172 L210.9,1174 L210.3,1175.9 L209.7,1177.9 L209,1179.8 L208.2,1181.8 L207.3,1183.7 L206.4,1185.7 L205.5,1187.6 L204.8,1189.6 L204.1,1191.5 L203.4,1193.4 L202.6,1195.4 L202,1197.3 L201.3,1199.3 L200.7,1201.2 L200.2,1203.2 L199.9,1205.1 L199.7,1207.1 L199.5,1209 L199.3,1211 L199.2,1212.9 L199,1214.9 L198.9,1216.8 L198.9,1218.7 L198.8,1220.7 L198.8,1222.6 L198.7,1224.6 L198.7,1226.5 L198.7,1228.5 L198.7,1230.4 L198.6,1232.4 L198.6,1234.3 L198.6,1236.3 L198.6,1238.2 L198.6,1240.2 L198.6,1242.1 L198,1242.1 L198,1240.2 L198,1238.2 L198,1236.3 L198,1234.3 L198,1232.4 L197.9,1230.4 L197.9,1228.5 L197.9,1226.5 L197.9,1224.6 L197.8,1222.6 L197.8,1220.7 L197.7,1218.7 L197.7,1216.8 L197.6,1214.9 L197.4,1212.9 L197.3,1211 L197.1,1209 L196.9,1207.1 L196.7,1205.1 L196.4,1203.2 L195.9,1201.2 L195.3,1199.3 L194.6,1197.3 L194,1195.4 L193.2,1193.4 L192.5,1191.5 L191.8,1189.6 L191.1,1187.6 L190.2,1185.7 L189.3,1183.7 L188.4,1181.8 L187.6,1179.8 L186.9,1177.9 L186.3,1175.9 L185.7,1174 L185.2,1172 L184.7,1170.1 L184.3,1168.1 L183.8,1166.2 L183.4,1164.3 L183.1,1162.3 L182.9,1160.4 L182.8,1158.4 L182.8,1156.5 L182.9,1154.5 L183.1,1152.6 L183.3,1150.6 L183.5,1148.7 L183.8,1146.7 L184.1,1144.8 L184.4,1142.8 L184.7,1140.9 L184.9,1138.9 L185.1,1137 L185.3,1135.1 L185.5,1133.1 L185.7,1131.2 L185.9,1129.2 L186,1127.3 L186.2,1125.3 L186.2,1123.4 L186.2,1121.4 L186.2,1119.5 L186.1,1117.5 L186.1,1115.6 L186.1,1113.6 L186,1111.7 L185.9,1109.8 L185.8,1107.8 L185.8,1105.9 L185.7,1103.9 L185.6,1102 L185.5,1100 L185.4,1098.1 L185.2,1096.1 L185,1094.2 L184.8,1092.2 L184.6,1090.3 L184.3,1088.3 L184,1086.4 L183.7,1084.5 L183.4,1082.5 L183,1080.6 L182.7,1078.6 L182.3,1076.7 L181.9,1074.7 L181.4,1072.8 L180.8,1070.8 L180.3,1068.9 L179.7,1066.9 L179,1065 L178.3,1063 L177.7,1061.1 L177,1059.2 L176.3,1057.2 L175.4,1055.3 L174.6,1053.3 L173.8,1051.4 L173.1,1049.4 L172.5,1047.5 L171.9,1045.5 L171.4,1043.6 L170.8,1041.6 L170.2,1039.7 L169.6,1037.7 L168.9,1035.8 L168.2,1033.9 L167.6,1031.9 L167,1030 L166.5,1028 L165.9,1026.1 L165.3,1024.1 L164.8,1022.2 L164.5,1020.2 L164.3,1018.3 L164.4,1016.3 L164.6,1014.4 L164.9,1012.4 L165.3,1010.5 L165.9,1008.6 L166.4,1006.6 L167,1004.7 L167.9,1002.7 L169,1000.8 L170.2,998.8 L171.3,996.9 L172.5,994.9 L173.8,993 L175.1,991 L176.4,989.1 L177.8,987.1 L179,985.2 L180.2,983.3 L181.4,981.3 L182.6,979.4 L183.8,977.4 L184.9,975.5 L186,973.5 L187,971.6 L187.9,969.6 L188.7,967.7 L189.4,965.7 L190.1,963.8 L190.7,961.8 L191.3,959.9 L191.9,958 L192.4,956 L192.8,954.1 L193.2,952.1 L193.6,950.2 L193.9,948.2 L194.2,946.3 L194.5,944.3 L194.7,942.4 L195,940.4 L195.2,938.5 L195.5,936.5 L195.7,934.6 L195.9,932.6 L196.2,930.7 L196.4,928.8 L196.5,926.8 L196.7,924.9 L196.8,922.9 L196.9,921 L197,919 L197.1,917.1 L197.2,915.1 L197.2,913.2 L197.3,911.2 L197.3,909.3 L197.4,907.3 L197.4,905.4 L197.5,903.5 L197.5,901.5 L197.6,899.6 L197.6,897.6 L197.6,895.7 L197.7,893.7 L197.7,891.8 L197.7,889.8 L197.7,887.9 L197.8,885.9 L197.8,884 L197.8,882 L197.8,880.1 L197.9,878.2 L197.9,876.2 L197.9,874.3 L197.9,872.3 L197.9,870.4 L197.9,868.4 L198,866.5 L198,864.5 L198,862.6 L198,860.6 L198,858.7 L198,856.7 L198,854.8 Z" fill="#FF8080" stroke="#FF0000" stroke-width="1.9" stroke-linejoin="round"/>
<line x1="177.5" y1="1058.9" x2="219.1" y2="1058.9" stroke="#000" stroke-width="1.6"/>
<path d="M421,854.8 L421,856.7 L421,858.7 L421,860.6 L421,862.6 L421,864.5 L421,866.5 L421.1,868.4 L421.1,870.4 L421.1,872.3 L421.1,874.3 L421.1,876.2 L421.1,878.2 L421.2,880.1 L421.2,882 L421.2,884 L421.2,885.9 L421.3,887.9 L421.3,889.8 L421.3,891.8 L421.3,893.7 L421.4,895.7 L421.4,897.6 L421.4,899.6 L421.5,901.5 L421.5,903.5 L421.6,905.4 L421.6,907.3 L421.7,909.3 L421.7,911.2 L421.8,913.2 L421.8,915.1 L421.9,917.1 L422,919 L422.1,921 L422.2,922.9 L422.3,924.9 L422.5,926.8 L422.6,928.8 L422.8,930.7 L423.1,932.6 L423.3,934.6 L423.5,936.5 L423.8,938.5 L424,940.4 L424.3,942.4 L424.5,944.3 L424.8,946.3 L425.1,948.2 L425.4,950.2 L425.8,952.1 L426.2,954.1 L426.6,956 L427.1,958 L427.7,959.9 L428.3,961.8 L428.9,963.8 L429.6,965.7 L430.3,967.7 L431.1,969.6 L432,971.6 L433,973.5 L434.1,975.5 L435.2,977.4 L436.4,979.4 L437.6,981.3 L438.8,983.3 L440,985.2 L441.2,987.1 L442.6,989.1 L443.9,991 L445.2,993 L446.5,994.9 L447.7,996.9 L448.8,998.8 L450,1000.8 L451.1,1002.7 L452,1004.7 L452.6,1006.6 L453.1,1008.6 L453.7,1010.5 L454.1,1012.4 L454.4,1014.4 L454.6,1016.3 L454.7,1018.3 L454.5,1020.2 L454.2,1022.2 L453.7,1024.1 L453.1,1026.1 L452.5,1028 L452,1030 L451.4,1031.9 L450.8,1033.9 L450.1,1035.8 L449.4,1037.7 L448.8,1039.7 L448.2,1041.6 L447.6,1043.6 L447.1,1045.5 L446.5,1047.5 L445.9,1049.4 L445.2,1051.4 L444.4,1053.3 L443.6,1055.3 L442.7,1057.2 L442,1059.2 L441.3,1061.1 L440.7,1063 L440,1065 L439.3,1066.9 L438.7,1068.9 L438.2,1070.8 L437.6,1072.8 L437.1,1074.7 L436.7,1076.7 L436.3,1078.6 L436,1080.6 L435.6,1082.5 L435.3,1084.5 L435,1086.4 L434.7,1088.3 L434.4,1090.3 L434.2,1092.2 L434,1094.2 L433.8,1096.1 L433.6,1098.1 L433.5,1100 L433.4,1102 L433.3,1103.9 L433.2,1105.9 L433.2,1107.8 L433.1,1109.8 L433,1111.7 L432.9,1113.6 L432.9,1115.6 L432.9,1117.5 L432.8,1119.5 L432.8,1121.4 L432.8,1123.4 L432.8,1125.3 L433,1127.3 L433.1,1129.2 L433.3,1131.2 L433.5,1133.1 L433.7,1135.1 L433.9,1137 L434.1,1138.9 L434.3,1140.9 L434.6,1142.8 L434.9,1144.8 L435.2,1146.7 L435.5,1148.7 L435.7,1150.6 L435.9,1152.6 L436.1,1154.5 L436.2,1156.5 L436.2,1158.4 L436.1,1160.4 L435.9,1162.3 L435.6,1164.3 L435.2,1166.2 L434.7,1168.1 L434.3,1170.1 L433.8,1172 L433.3,1174 L432.7,1175.9 L432.1,1177.9 L431.4,1179.8 L430.6,1181.8 L429.7,1183.7 L428.8,1185.7 L427.9,1187.6 L427.2,1189.6 L426.5,1191.5 L425.8,1193.4 L425,1195.4 L424.4,1197.3 L423.7,1199.3 L423.1,1201.2 L422.6,1203.2 L422.3,1205.1 L422.1,1207.1 L421.9,1209 L421.7,1211 L421.6,1212.9 L421.4,1214.9 L421.3,1216.8 L421.3,1218.7 L421.2,1220.7 L421.2,1222.6 L421.1,1224.6 L421.1,1226.5 L421.1,1228.5 L421.1,1230.4 L421,1232.4 L421,1234.3 L421,1236.3 L421,1238.2 L421,1240.2 L421,1242.1 L420.4,1242.1 L420.4,1240.2 L420.4,1238.2 L420.4,1236.3 L420.4,1234.3 L420.4,1232.4 L420.3,1230.4 L420.3,1228.5 L420.3,1226.5 L420.3,1224.6 L420.2,1222.6 L420.2,1220.7 L420.1,1218.7 L420.1,1216.8 L420,1214.9 L419.8,1212.9 L419.7,1211 L419.5,1209 L419.3,1207.1 L419.1,1205.1 L418.8,1203.2 L418.3,1201.2 L417.7,1199.3 L417,1197.3 L416.4,1195.4 L415.6,1193.4 L414.9,1191.5 L414.2,1189.6 L413.5,1187.6 L412.6,1185.7 L411.7,1183.7 L410.8,1181.8 L410,1179.8 L409.3,1177.9 L408.7,1175.9 L408.1,1174 L407.6,1172 L407.1,1170.1 L406.7,1168.1 L406.2,1166.2 L405.8,1164.3 L405.5,1162.3 L405.3,1160.4 L405.2,1158.4 L405.2,1156.5 L405.3,1154.5 L405.5,1152.6 L405.7,1150.6 L405.9,1148.7 L406.2,1146.7 L406.5,1144.8 L406.8,1142.8 L407.1,1140.9 L407.3,1138.9 L407.5,1137 L407.7,1135.1 L407.9,1133.1 L408.1,1131.2 L408.3,1129.2 L408.4,1127.3 L408.6,1125.3 L408.6,1123.4 L408.6,1121.4 L408.6,1119.5 L408.5,1117.5 L408.5,1115.6 L408.5,1113.6 L408.4,1111.7 L408.3,1109.8 L408.2,1107.8 L408.2,1105.9 L408.1,1103.9 L408,1102 L407.9,1100 L407.8,1098.1 L407.6,1096.1 L407.4,1094.2 L407.2,1092.2 L407,1090.3 L406.7,1088.3 L406.4,1086.4 L406.1,1084.5 L405.8,1082.5 L405.4,1080.6 L405.1,1078.6 L404.7,1076.7 L404.3,1074.7 L403.8,1072.8 L403.2,1070.8 L402.7,1068.9 L402.1,1066.9 L401.4,1065 L400.7,1063 L400.1,1061.1 L399.4,1059.2 L398.7,1057.2 L397.8,1055.3 L397,1053.3 L396.2,1051.4 L395.5,1049.4 L394.9,1047.5 L394.3,1045.5 L393.8,1043.6 L393.2,1041.6 L392.6,1039.7 L392,1037.7 L391.3,1035.8 L390.6,1033.9 L390,1031.9 L389.4,1030 L388.9,1028 L388.3,1026.1 L387.7,1024.1 L387.2,1022.2 L386.9,1020.2 L386.7,1018.3 L386.8,1016.3 L387,1014.4 L387.3,1012.4 L387.7,1010.5 L388.3,1008.6 L388.8,1006.6 L389.4,1004.7 L390.3,1002.7 L391.4,1000.8 L392.6,998.8 L393.7,996.9 L394.9,994.9 L396.2,993 L397.5,991 L398.8,989.1 L400.2,987.1 L401.4,985.2 L402.6,983.3 L403.8,981.3 L405,979.4 L406.2,977.4 L407.3,975.5 L408.4,973.5 L409.4,971.6 L410.3,969.6 L411.1,967.7 L411.8,965.7 L412.5,963.8 L413.1,961.8 L413.7,959.9 L414.3,958 L414.8,956 L415.2,954.1 L415.6,952.1 L416,950.2 L416.3,948.2 L416.6,946.3 L416.9,944.3 L417.1,942.4 L417.4,940.4 L417.6,938.5 L417.9,936.5 L418.1,934.6 L418.3,932.6 L418.6,930.7 L418.8,928.8 L418.9,926.8 L419.1,924.9 L419.2,922.9 L419.3,921 L419.4,919 L419.5,917.1 L419.6,915.1 L419.6,913.2 L419.7,911.2 L419.7,909.3 L419.8,907.3 L419.8,905.4 L419.9,903.5 L419.9,901.5 L420,899.6 L420,897.6 L420,895.7 L420.1,893.7 L420.1,891.8 L420.1,889.8 L420.1,887.9 L420.2,885.9 L420.2,884 L420.2,882 L420.2,880.1 L420.3,878.2 L420.3,876.2 L420.3,874.3 L420.3,872.3 L420.3,870.4 L420.3,868.4 L420.4,866.5 L420.4,864.5 L420.4,862.6 L420.4,860.6 L420.4,858.7 L420.4,856.7 L420.4,854.8 Z" fill="#FF8080" stroke="#FF0000" stroke-width="1.9" stroke-linejoin="round"/>
<line x1="399.9" y1="1058.9" x2="441.5" y2="1058.9" stroke="#000" stroke-width="1.6"/>
<path d="M643.5,969.8 L643.5,970.8 L643.5,971.8 L643.5,972.8 L643.5,973.9 L643.6,974.9 L643.6,975.9 L643.6,976.9 L643.6,977.9 L643.7,978.9 L643.7,979.9 L643.7,981 L643.8,982 L643.8,983 L643.9,984 L643.9,985 L644,986 L644,987 L644.1,988.1 L644.1,989.1 L644.2,990.1 L644.3,991.1 L644.3,992.1 L644.4,993.1 L644.5,994.1 L644.6,995.2 L644.8,996.2 L644.9,997.2 L645.1,998.2 L645.3,999.2 L645.5,1000.2 L645.7,1001.3 L645.9,1002.3 L646.2,1003.3 L646.4,1004.3 L646.7,1005.3 L647.1,1006.3 L647.5,1007.3 L648,1008.4 L648.5,1009.4 L649,1010.4 L649.6,1011.4 L650.2,1012.4 L650.8,1013.4 L651.4,1014.4 L652,1015.5 L652.6,1016.5 L653.3,1017.5 L654,1018.5 L654.8,1019.5 L655.5,1020.5 L656.3,1021.5 L657.1,1022.6 L658,1023.6 L658.8,1024.6 L659.6,1025.6 L660.4,1026.6 L661.2,1027.6 L662,1028.6 L662.8,1029.7 L663.6,1030.7 L664.4,1031.7 L665.3,1032.7 L666.1,1033.7 L666.9,1034.7 L667.7,1035.7 L668.5,1036.8 L669.3,1037.8 L670,1038.8 L670.6,1039.8 L671.3,1040.8 L672,1041.8 L672.7,1042.8 L673.3,1043.9 L673.9,1044.9 L674.5,1045.9 L675,1046.9 L675.4,1047.9 L675.8,1048.9 L676.1,1050 L676.4,1051 L676.7,1052 L676.8,1053 L676.7,1054 L676.4,1055 L675.9,1056 L675.4,1057.1 L674.8,1058.1 L674.2,1059.1 L673.7,1060.1 L673.2,1061.1 L672.7,1062.1 L672.2,1063.1 L671.7,1064.2 L671.1,1065.2 L670.6,1066.2 L670.1,1067.2 L669.6,1068.2 L669.1,1069.2 L668.7,1070.2 L668.2,1071.3 L667.8,1072.3 L667.5,1073.3 L667.1,1074.3 L666.8,1075.3 L666.4,1076.3 L666.1,1077.3 L665.8,1078.4 L665.4,1079.4 L665.1,1080.4 L664.8,1081.4 L664.4,1082.4 L664.1,1083.4 L663.7,1084.4 L663.3,1085.5 L662.9,1086.5 L662.4,1087.5 L661.9,1088.5 L661.4,1089.5 L660.9,1090.5 L660.4,1091.5 L659.8,1092.6 L659.3,1093.6 L658.7,1094.6 L658.1,1095.6 L657.5,1096.6 L656.9,1097.6 L656.3,1098.7 L655.7,1099.7 L655.2,1100.7 L654.6,1101.7 L654,1102.7 L653.4,1103.7 L652.8,1104.7 L652.2,1105.8 L651.5,1106.8 L650.9,1107.8 L650.3,1108.8 L649.6,1109.8 L649.1,1110.8 L648.5,1111.8 L648,1112.9 L647.6,1113.9 L647.2,1114.9 L646.8,1115.9 L646.5,1116.9 L646.1,1117.9 L645.8,1118.9 L645.4,1120 L645.2,1121 L644.9,1122 L644.7,1123 L644.5,1124 L644.4,1125 L644.3,1126 L644.2,1127.1 L644.2,1128.1 L644.2,1129.1 L644.1,1130.1 L644.1,1131.1 L644,1132.1 L644,1133.1 L644,1134.2 L643.9,1135.2 L643.9,1136.2 L643.9,1137.2 L643.9,1138.2 L643.9,1139.2 L643.8,1140.2 L643.8,1141.3 L643.8,1142.3 L643.8,1143.3 L643.8,1144.3 L643.8,1145.3 L643.7,1146.3 L643.7,1147.4 L643.7,1148.4 L643.7,1149.4 L643.7,1150.4 L643.7,1151.4 L643.7,1152.4 L643.6,1153.4 L643.6,1154.5 L643.6,1155.5 L643.6,1156.5 L643.6,1157.5 L643.6,1158.5 L643.6,1159.5 L643.6,1160.5 L643.6,1161.6 L643.5,1162.6 L643.5,1163.6 L643.5,1164.6 L643.5,1165.6 L643.5,1166.6 L643.5,1167.6 L643.5,1168.7 L643.5,1169.7 L643.5,1170.7 L643.5,1171.7 L642.9,1171.7 L642.9,1170.7 L642.9,1169.7 L642.9,1168.7 L642.9,1167.6 L642.9,1166.6 L642.9,1165.6 L642.9,1164.6 L642.9,1163.6 L642.9,1162.6 L642.8,1161.6 L642.8,1160.5 L642.8,1159.5 L642.8,1158.5 L642.8,1157.5 L642.8,1156.5 L642.8,1155.5 L642.8,1154.5 L642.8,1153.4 L642.7,1152.4 L642.7,1151.4 L642.7,1150.4 L642.7,1149.4 L642.7,1148.4 L642.7,1147.4 L642.7,1146.3 L642.6,1145.3 L642.6,1144.3 L642.6,1143.3 L642.6,1142.3 L642.6,1141.3 L642.6,1140.2 L642.5,1139.2 L642.5,1138.2 L642.5,1137.2 L642.5,1136.2 L642.5,1135.2 L642.4,1134.2 L642.4,1133.1 L642.4,1132.1 L642.3,1131.1 L642.3,1130.1 L642.2,1129.1 L642.2,1128.1 L642.2,1127.1 L642.1,1126 L642,1125 L641.9,1124 L641.7,1123 L641.5,1122 L641.2,1121 L641,1120 L640.6,1118.9 L640.3,1117.9 L639.9,1116.9 L639.6,1115.9 L639.2,1114.9 L638.8,1113.9 L638.4,1112.9 L637.9,1111.8 L637.3,1110.8 L636.8,1109.8 L636.1,1108.8 L635.5,1107.8 L634.9,1106.8 L634.2,1105.8 L633.6,1104.7 L633,1103.7 L632.4,1102.7 L631.8,1101.7 L631.2,1100.7 L630.7,1099.7 L630.1,1098.7 L629.5,1097.6 L628.9,1096.6 L628.3,1095.6 L627.7,1094.6 L627.1,1093.6 L626.6,1092.6 L626,1091.5 L625.5,1090.5 L625,1089.5 L624.5,1088.5 L624,1087.5 L623.5,1086.5 L623.1,1085.5 L622.7,1084.4 L622.3,1083.4 L622,1082.4 L621.6,1081.4 L621.3,1080.4 L621,1079.4 L620.6,1078.4 L620.3,1077.3 L620,1076.3 L619.6,1075.3 L619.3,1074.3 L618.9,1073.3 L618.6,1072.3 L618.2,1071.3 L617.7,1070.2 L617.3,1069.2 L616.8,1068.2 L616.3,1067.2 L615.8,1066.2 L615.3,1065.2 L614.7,1064.2 L614.2,1063.1 L613.7,1062.1 L613.2,1061.1 L612.7,1060.1 L612.2,1059.1 L611.6,1058.1 L611,1057.1 L610.5,1056 L610,1055 L609.7,1054 L609.6,1053 L609.7,1052 L610,1051 L610.3,1050 L610.6,1048.9 L611,1047.9 L611.4,1046.9 L611.9,1045.9 L612.5,1044.9 L613.1,1043.9 L613.7,1042.8 L614.4,1041.8 L615.1,1040.8 L615.8,1039.8 L616.4,1038.8 L617.1,1037.8 L617.9,1036.8 L618.7,1035.7 L619.5,1034.7 L620.3,1033.7 L621.1,1032.7 L622,1031.7 L622.8,1030.7 L623.6,1029.7 L624.4,1028.6 L625.2,1027.6 L626,1026.6 L626.8,1025.6 L627.6,1024.6 L628.4,1023.6 L629.3,1022.6 L630.1,1021.5 L630.9,1020.5 L631.6,1019.5 L632.4,1018.5 L633.1,1017.5 L633.8,1016.5 L634.4,1015.5 L635,1014.4 L635.6,1013.4 L636.2,1012.4 L636.8,1011.4 L637.4,1010.4 L637.9,1009.4 L638.4,1008.4 L638.9,1007.3 L639.3,1006.3 L639.7,1005.3 L640,1004.3 L640.2,1003.3 L640.5,1002.3 L640.7,1001.3 L640.9,1000.2 L641.1,999.2 L641.3,998.2 L641.5,997.2 L641.6,996.2 L641.8,995.2 L641.9,994.1 L642,993.1 L642.1,992.1 L642.1,991.1 L642.2,990.1 L642.3,989.1 L642.3,988.1 L642.4,987 L642.4,986 L642.5,985 L642.5,984 L642.6,983 L642.6,982 L642.7,981 L642.7,979.9 L642.7,978.9 L642.8,977.9 L642.8,976.9 L642.8,975.9 L642.8,974.9 L642.9,973.9 L642.9,972.8 L642.9,971.8 L642.9,970.8 L642.9,969.8 Z" fill="#BBBBBB" stroke="#777777" stroke-width="1.5" stroke-linejoin="round"/>
<line x1="613" y1="1059.5" x2="673.4" y2="1059.5" stroke="#000" stroke-width="1.6"/>
<path d="M865.6,969.8 L865.6,970.8 L865.6,971.8 L865.6,972.8 L865.6,973.9 L865.7,974.9 L865.7,975.9 L865.7,976.9 L865.7,977.9 L865.8,978.9 L865.8,979.9 L865.8,981 L865.9,982 L865.9,983 L866,984 L866,985 L866.1,986 L866.1,987 L866.2,988.1 L866.2,989.1 L866.3,990.1 L866.4,991.1 L866.4,992.1 L866.5,993.1 L866.6,994.1 L866.7,995.2 L866.9,996.2 L867,997.2 L867.2,998.2 L867.4,999.2 L867.6,1000.2 L867.8,1001.3 L868,1002.3 L868.3,1003.3 L868.5,1004.3 L868.8,1005.3 L869.2,1006.3 L869.6,1007.3 L870.1,1008.4 L870.6,1009.4 L871.1,1010.4 L871.7,1011.4 L872.3,1012.4 L872.9,1013.4 L873.5,1014.4 L874.1,1015.5 L874.7,1016.5 L875.4,1017.5 L876.1,1018.5 L876.9,1019.5 L877.6,1020.5 L878.4,1021.5 L879.2,1022.6 L880.1,1023.6 L880.9,1024.6 L881.7,1025.6 L882.5,1026.6 L883.3,1027.6 L884.1,1028.6 L884.9,1029.7 L885.7,1030.7 L886.5,1031.7 L887.4,1032.7 L888.2,1033.7 L889,1034.7 L889.8,1035.7 L890.6,1036.8 L891.4,1037.8 L892.1,1038.8 L892.7,1039.8 L893.4,1040.8 L894.1,1041.8 L894.8,1042.8 L895.4,1043.9 L896,1044.9 L896.6,1045.9 L897.1,1046.9 L897.5,1047.9 L897.9,1048.9 L898.2,1050 L898.5,1051 L898.8,1052 L898.9,1053 L898.8,1054 L898.5,1055 L898,1056 L897.5,1057.1 L896.9,1058.1 L896.3,1059.1 L895.8,1060.1 L895.3,1061.1 L894.8,1062.1 L894.3,1063.1 L893.8,1064.2 L893.2,1065.2 L892.7,1066.2 L892.2,1067.2 L891.7,1068.2 L891.2,1069.2 L890.8,1070.2 L890.3,1071.3 L889.9,1072.3 L889.6,1073.3 L889.2,1074.3 L888.9,1075.3 L888.5,1076.3 L888.2,1077.3 L887.9,1078.4 L887.5,1079.4 L887.2,1080.4 L886.9,1081.4 L886.5,1082.4 L886.2,1083.4 L885.8,1084.4 L885.4,1085.5 L885,1086.5 L884.5,1087.5 L884,1088.5 L883.5,1089.5 L883,1090.5 L882.5,1091.5 L881.9,1092.6 L881.4,1093.6 L880.8,1094.6 L880.2,1095.6 L879.6,1096.6 L879,1097.6 L878.4,1098.7 L877.8,1099.7 L877.3,1100.7 L876.7,1101.7 L876.1,1102.7 L875.5,1103.7 L874.9,1104.7 L874.3,1105.8 L873.6,1106.8 L873,1107.8 L872.4,1108.8 L871.7,1109.8 L871.2,1110.8 L870.6,1111.8 L870.1,1112.9 L869.7,1113.9 L869.3,1114.9 L868.9,1115.9 L868.6,1116.9 L868.2,1117.9 L867.9,1118.9 L867.5,1120 L867.3,1121 L867,1122 L866.8,1123 L866.6,1124 L866.5,1125 L866.4,1126 L866.3,1127.1 L866.3,1128.1 L866.3,1129.1 L866.2,1130.1 L866.2,1131.1 L866.1,1132.1 L866.1,1133.1 L866.1,1134.2 L866,1135.2 L866,1136.2 L866,1137.2 L866,1138.2 L866,1139.2 L865.9,1140.2 L865.9,1141.3 L865.9,1142.3 L865.9,1143.3 L865.9,1144.3 L865.9,1145.3 L865.8,1146.3 L865.8,1147.4 L865.8,1148.4 L865.8,1149.4 L865.8,1150.4 L865.8,1151.4 L865.8,1152.4 L865.7,1153.4 L865.7,1154.5 L865.7,1155.5 L865.7,1156.5 L865.7,1157.5 L865.7,1158.5 L865.7,1159.5 L865.7,1160.5 L865.7,1161.6 L865.6,1162.6 L865.6,1163.6 L865.6,1164.6 L865.6,1165.6 L865.6,1166.6 L865.6,1167.6 L865.6,1168.7 L865.6,1169.7 L865.6,1170.7 L865.6,1171.7 L865,1171.7 L865,1170.7 L865,1169.7 L865,1168.7 L865,1167.6 L865,1166.6 L865,1165.6 L865,1164.6 L865,1163.6 L865,1162.6 L864.9,1161.6 L864.9,1160.5 L864.9,1159.5 L864.9,1158.5 L864.9,1157.5 L864.9,1156.5 L864.9,1155.5 L864.9,1154.5 L864.9,1153.4 L864.8,1152.4 L864.8,1151.4 L864.8,1150.4 L864.8,1149.4 L864.8,1148.4 L864.8,1147.4 L864.8,1146.3 L864.7,1145.3 L864.7,1144.3 L864.7,1143.3 L864.7,1142.3 L864.7,1141.3 L864.7,1140.2 L864.6,1139.2 L864.6,1138.2 L864.6,1137.2 L864.6,1136.2 L864.6,1135.2 L864.5,1134.2 L864.5,1133.1 L864.5,1132.1 L864.4,1131.1 L864.4,1130.1 L864.3,1129.1 L864.3,1128.1 L864.3,1127.1 L864.2,1126 L864.1,1125 L864,1124 L863.8,1123 L863.6,1122 L863.3,1121 L863.1,1120 L862.7,1118.9 L862.4,1117.9 L862,1116.9 L861.7,1115.9 L861.3,1114.9 L860.9,1113.9 L860.5,1112.9 L860,1111.8 L859.4,1110.8 L858.9,1109.8 L858.2,1108.8 L857.6,1107.8 L857,1106.8 L856.3,1105.8 L855.7,1104.7 L855.1,1103.7 L854.5,1102.7 L853.9,1101.7 L853.3,1100.7 L852.8,1099.7 L852.2,1098.7 L851.6,1097.6 L851,1096.6 L850.4,1095.6 L849.8,1094.6 L849.2,1093.6 L848.7,1092.6 L848.1,1091.5 L847.6,1090.5 L847.1,1089.5 L846.6,1088.5 L846.1,1087.5 L845.6,1086.5 L845.2,1085.5 L844.8,1084.4 L844.4,1083.4 L844.1,1082.4 L843.7,1081.4 L843.4,1080.4 L843.1,1079.4 L842.7,1078.4 L842.4,1077.3 L842.1,1076.3 L841.7,1075.3 L841.4,1074.3 L841,1073.3 L840.7,1072.3 L840.3,1071.3 L839.8,1070.2 L839.4,1069.2 L838.9,1068.2 L838.4,1067.2 L837.9,1066.2 L837.4,1065.2 L836.8,1064.2 L836.3,1063.1 L835.8,1062.1 L835.3,1061.1 L834.8,1060.1 L834.3,1059.1 L833.7,1058.1 L833.1,1057.1 L832.6,1056 L832.1,1055 L831.8,1054 L831.7,1053 L831.8,1052 L832.1,1051 L832.4,1050 L832.7,1048.9 L833.1,1047.9 L833.5,1046.9 L834,1045.9 L834.6,1044.9 L835.2,1043.9 L835.8,1042.8 L836.5,1041.8 L837.2,1040.8 L837.9,1039.8 L838.5,1038.8 L839.2,1037.8 L840,1036.8 L840.8,1035.7 L841.6,1034.7 L842.4,1033.7 L843.2,1032.7 L844.1,1031.7 L844.9,1030.7 L845.7,1029.7 L846.5,1028.6 L847.3,1027.6 L848.1,1026.6 L848.9,1025.6 L849.7,1024.6 L850.5,1023.6 L851.4,1022.6 L852.2,1021.5 L853,1020.5 L853.7,1019.5 L854.5,1018.5 L855.2,1017.5 L855.9,1016.5 L856.5,1015.5 L857.1,1014.4 L857.7,1013.4 L858.3,1012.4 L858.9,1011.4 L859.5,1010.4 L860,1009.4 L860.5,1008.4 L861,1007.3 L861.4,1006.3 L861.8,1005.3 L862.1,1004.3 L862.3,1003.3 L862.6,1002.3 L862.8,1001.3 L863,1000.2 L863.2,999.2 L863.4,998.2 L863.6,997.2 L863.7,996.2 L863.9,995.2 L864,994.1 L864.1,993.1 L864.2,992.1 L864.2,991.1 L864.3,990.1 L864.4,989.1 L864.4,988.1 L864.5,987 L864.5,986 L864.6,985 L864.6,984 L864.7,983 L864.7,982 L864.8,981 L864.8,979.9 L864.8,978.9 L864.9,977.9 L864.9,976.9 L864.9,975.9 L864.9,974.9 L865,973.9 L865,972.8 L865,971.8 L865,970.8 L865,969.8 Z" fill="#BBBBBB" stroke="#777777" stroke-width="1.5" stroke-linejoin="round"/>
<line x1="835.1" y1="1059.5" x2="895.5" y2="1059.5" stroke="#000" stroke-width="1.6"/>
<line x1="142.7" y1="896.5" x2="142.7" y2="1058.9" stroke="#FF0000" stroke-width="3.3"/>
<circle cx="142.7" cy="896.5" r="15.6" fill="#FF0000"/>
<line x1="364.6" y1="895.1" x2="364.6" y2="1058.9" stroke="#FF0000" stroke-width="3.3"/>
<circle cx="364.6" cy="895.1" r="15.6" fill="#FF0000"/>
<line x1="587.4" y1="926.1" x2="587.4" y2="1058.9" stroke="#777777" stroke-width="3.3"/>
<circle cx="587.4" cy="926.1" r="15.6" fill="#777777"/>
<line x1="809.8" y1="1059.5" x2="809.8" y2="1091.5" stroke="#777777" stroke-width="3.3"/>
<circle cx="809.8" cy="1091.5" r="15.6" fill="#777777"/>
<path d="M133.5,837.5 V832.5 H203.4 V837.5" fill="none" stroke="#000" stroke-width="2.9"/>
<text x="106.5" y="822.7" font-size="28" textLength="115.5" lengthAdjust="spacingAndGlyphs"><tspan font-style="italic">P</tspan> &lt; 0.001</text>
<path d="M359.8,837.5 V832.5 H431.2 V837.5" fill="none" stroke="#000" stroke-width="2.9"/>
<text x="343.5" y="822.5" font-size="28" textLength="115.5" lengthAdjust="spacingAndGlyphs"><tspan font-style="italic">P</tspan> &lt; 0.001</text>
<path d="M589.4,879.6 V874.6 H660.5 V879.6" fill="none" stroke="#000" stroke-width="2.9"/>
<text x="563" y="865.5" font-size="28" textLength="115.5" lengthAdjust="spacingAndGlyphs"><tspan font-style="italic">P</tspan> &lt; 0.001</text>
<text x="148.5" y="1292" font-size="27.5" textLength="65" lengthAdjust="spacingAndGlyphs">dPC1</text>
<text x="375" y="1292" font-size="27.5" textLength="68.5" lengthAdjust="spacingAndGlyphs">dPC2</text>
<text x="593.7" y="1292" font-size="27.5" textLength="65" lengthAdjust="spacingAndGlyphs">dPC1</text>
<text x="810.5" y="1292" font-size="27.5" textLength="68.5" lengthAdjust="spacingAndGlyphs">dPC2</text>
<text x="217" y="1355" font-size="27.5" textLength="165" lengthAdjust="spacingAndGlyphs">Cued pref. in</text>
<text x="169.5" y="1386.5" font-size="27.5" textLength="268" lengthAdjust="spacingAndGlyphs">versus cued pref. out</text>
<text x="668.7" y="1355" font-size="27.5" textLength="170" lengthAdjust="spacingAndGlyphs">Other pref. in</text>
<text x="621.5" y="1386.5" font-size="27.5" textLength="273.5" lengthAdjust="spacingAndGlyphs">versus other pref. out</text>

<path d="M1124.1,802.9 V1315.3 H1533" fill="none" stroke="#000" stroke-width="1.45"/>
<line x1="1124.1" y1="868.2" x2="1136.9" y2="868.2" stroke="#000" stroke-width="1.3"/>
<text x="1110" y="875.4" font-size="23" text-anchor="end">50</text>
<line x1="1124.1" y1="966.6" x2="1136.9" y2="966.6" stroke="#000" stroke-width="1.3"/>
<text x="1110" y="973.8" font-size="23" text-anchor="end">25</text>
<line x1="1124.1" y1="1065" x2="1136.9" y2="1065" stroke="#000" stroke-width="1.3"/>
<text x="1110" y="1072.2" font-size="23" text-anchor="end">0</text>
<line x1="1124.1" y1="1163.7" x2="1136.9" y2="1163.7" stroke="#000" stroke-width="1.3"/>
<text x="1110" y="1170.9" font-size="23" text-anchor="end">−25</text>
<line x1="1124.1" y1="1261.8" x2="1136.9" y2="1261.8" stroke="#000" stroke-width="1.3"/>
<text x="1110" y="1269" font-size="23" text-anchor="end">−50</text>
<text transform="translate(1046.5,1223.2) rotate(-90)" font-size="27.5" textLength="327.2" lengthAdjust="spacingAndGlyphs">Difference in accuracy (%)</text>
<text x="1028.2" y="791.2" font-size="38" font-weight="bold" stroke="#000" stroke-width="1.3" stroke-linejoin="round" textLength="25.8" lengthAdjust="spacingAndGlyphs">d</text>
<path d="M1328.8,872.2 L1328.8,874 L1328.8,875.8 L1328.8,877.6 L1328.8,879.4 L1328.8,881.2 L1328.8,883 L1328.8,884.8 L1328.8,886.6 L1328.8,888.4 L1328.8,890.2 L1328.8,892 L1328.8,893.8 L1328.9,895.6 L1328.9,897.4 L1328.9,899.2 L1328.9,901 L1328.9,902.9 L1328.9,904.7 L1329,906.5 L1329,908.3 L1329.1,910.1 L1329.2,911.9 L1329.3,913.7 L1329.4,915.5 L1329.6,917.3 L1329.8,919.1 L1330,920.9 L1330.3,922.7 L1330.7,924.5 L1331.1,926.3 L1331.5,928.1 L1332,929.9 L1332.5,931.7 L1333,933.5 L1333.5,935.3 L1334.1,937.1 L1334.7,938.9 L1335.4,940.7 L1336.1,942.5 L1336.8,944.3 L1337.6,946.1 L1338.3,947.9 L1339.2,949.7 L1340.1,951.5 L1341,953.3 L1341.9,955.1 L1342.9,956.9 L1343.8,958.7 L1344.7,960.5 L1345.6,962.4 L1346.5,964.2 L1347.5,966 L1348.4,967.8 L1349.3,969.6 L1350.2,971.4 L1350.9,973.2 L1351.5,975 L1352.1,976.8 L1352.6,978.6 L1353,980.4 L1353.5,982.2 L1353.9,984 L1354.2,985.8 L1354.5,987.6 L1354.8,989.4 L1355,991.2 L1355.3,993 L1355.5,994.8 L1355.6,996.6 L1355.8,998.4 L1356,1000.2 L1356.1,1002 L1356.2,1003.8 L1356.3,1005.6 L1356.4,1007.4 L1356.5,1009.2 L1356.5,1011 L1356.6,1012.8 L1356.7,1014.6 L1356.8,1016.4 L1356.9,1018.2 L1357.3,1020 L1357.8,1021.9 L1358.6,1023.7 L1359.5,1025.5 L1360.5,1027.3 L1361.6,1029.1 L1362.6,1030.9 L1363.5,1032.7 L1364.5,1034.5 L1365.6,1036.3 L1366.7,1038.1 L1367.9,1039.9 L1369,1041.7 L1370.2,1043.5 L1371.2,1045.3 L1372.1,1047.1 L1373,1048.9 L1373.8,1050.7 L1374.5,1052.5 L1375.2,1054.3 L1376,1056.1 L1376.8,1057.9 L1377.7,1059.7 L1378.6,1061.5 L1379.8,1063.3 L1381,1065.1 L1382.2,1066.9 L1383.4,1068.7 L1384.5,1070.5 L1385.4,1072.3 L1386.3,1074.1 L1387.2,1075.9 L1388.1,1077.7 L1388.9,1079.5 L1389.5,1081.3 L1389.9,1083.2 L1390,1085 L1389.8,1086.8 L1389.5,1088.6 L1389,1090.4 L1388.4,1092.2 L1387.8,1094 L1387.1,1095.8 L1386.3,1097.6 L1385.4,1099.4 L1384.3,1101.2 L1383.1,1103 L1381.6,1104.8 L1380.2,1106.6 L1378.7,1108.4 L1377.2,1110.2 L1375.7,1112 L1374.1,1113.8 L1372.5,1115.6 L1370.9,1117.4 L1369.2,1119.2 L1367.5,1121 L1365.8,1122.8 L1364.2,1124.6 L1362.5,1126.4 L1360.9,1128.2 L1359.3,1130 L1357.6,1131.8 L1356,1133.6 L1354.4,1135.4 L1352.8,1137.2 L1351.2,1139 L1349.7,1140.8 L1348.1,1142.7 L1346.5,1144.5 L1344.9,1146.3 L1343.4,1148.1 L1342,1149.9 L1340.7,1151.7 L1339.7,1153.5 L1338.7,1155.3 L1337.9,1157.1 L1337.1,1158.9 L1336.3,1160.7 L1335.7,1162.5 L1335,1164.3 L1334.5,1166.1 L1334,1167.9 L1333.5,1169.7 L1333.1,1171.5 L1332.7,1173.3 L1332.4,1175.1 L1332,1176.9 L1331.7,1178.7 L1331.4,1180.5 L1331.1,1182.3 L1330.7,1184.1 L1330.4,1185.9 L1330,1187.7 L1329.7,1189.5 L1329.4,1191.3 L1329.1,1193.1 L1329,1194.9 L1328.9,1196.7 L1328.9,1198.5 L1328.9,1200.3 L1328.9,1202.2 L1328.9,1204 L1328.9,1205.8 L1328.8,1207.6 L1328.8,1209.4 L1328.8,1211.2 L1328.8,1213 L1328.8,1214.8 L1328.8,1216.6 L1328.8,1218.4 L1328.8,1220.2 L1328.8,1222 L1328.8,1223.8 L1328.8,1225.6 L1328.8,1227.4 L1328.8,1229.2 L1328.8,1231 L1328.2,1231 L1328.2,1229.2 L1328.2,1227.4 L1328.2,1225.6 L1328.2,1223.8 L1328.2,1222 L1328.2,1220.2 L1328.2,1218.4 L1328.2,1216.6 L1328.2,1214.8 L1328.2,1213 L1328.2,1211.2 L1328.2,1209.4 L1328.2,1207.6 L1328.1,1205.8 L1328.1,1204 L1328.1,1202.2 L1328.1,1200.3 L1328.1,1198.5 L1328.1,1196.7 L1328,1194.9 L1327.9,1193.1 L1327.6,1191.3 L1327.3,1189.5 L1327,1187.7 L1326.6,1185.9 L1326.3,1184.1 L1325.9,1182.3 L1325.6,1180.5 L1325.3,1178.7 L1325,1176.9 L1324.6,1175.1 L1324.3,1173.3 L1323.9,1171.5 L1323.5,1169.7 L1323,1167.9 L1322.5,1166.1 L1322,1164.3 L1321.3,1162.5 L1320.7,1160.7 L1319.9,1158.9 L1319.1,1157.1 L1318.3,1155.3 L1317.3,1153.5 L1316.3,1151.7 L1315,1149.9 L1313.6,1148.1 L1312.1,1146.3 L1310.5,1144.5 L1308.9,1142.7 L1307.3,1140.8 L1305.8,1139 L1304.2,1137.2 L1302.6,1135.4 L1301,1133.6 L1299.4,1131.8 L1297.7,1130 L1296.1,1128.2 L1294.5,1126.4 L1292.8,1124.6 L1291.2,1122.8 L1289.5,1121 L1287.8,1119.2 L1286.1,1117.4 L1284.5,1115.6 L1282.9,1113.8 L1281.3,1112 L1279.8,1110.2 L1278.3,1108.4 L1276.8,1106.6 L1275.4,1104.8 L1273.9,1103 L1272.7,1101.2 L1271.6,1099.4 L1270.7,1097.6 L1269.9,1095.8 L1269.2,1094 L1268.6,1092.2 L1268,1090.4 L1267.5,1088.6 L1267.2,1086.8 L1267,1085 L1267.1,1083.2 L1267.5,1081.3 L1268.1,1079.5 L1268.9,1077.7 L1269.8,1075.9 L1270.7,1074.1 L1271.6,1072.3 L1272.5,1070.5 L1273.6,1068.7 L1274.8,1066.9 L1276,1065.1 L1277.2,1063.3 L1278.4,1061.5 L1279.3,1059.7 L1280.2,1057.9 L1281,1056.1 L1281.8,1054.3 L1282.5,1052.5 L1283.2,1050.7 L1284,1048.9 L1284.9,1047.1 L1285.8,1045.3 L1286.8,1043.5 L1288,1041.7 L1289.1,1039.9 L1290.3,1038.1 L1291.4,1036.3 L1292.5,1034.5 L1293.5,1032.7 L1294.4,1030.9 L1295.4,1029.1 L1296.5,1027.3 L1297.5,1025.5 L1298.4,1023.7 L1299.2,1021.9 L1299.7,1020 L1300.1,1018.2 L1300.2,1016.4 L1300.3,1014.6 L1300.4,1012.8 L1300.5,1011 L1300.5,1009.2 L1300.6,1007.4 L1300.7,1005.6 L1300.8,1003.8 L1300.9,1002 L1301,1000.2 L1301.2,998.4 L1301.4,996.6 L1301.5,994.8 L1301.7,993 L1302,991.2 L1302.2,989.4 L1302.5,987.6 L1302.8,985.8 L1303.1,984 L1303.5,982.2 L1304,980.4 L1304.4,978.6 L1304.9,976.8 L1305.5,975 L1306.1,973.2 L1306.8,971.4 L1307.7,969.6 L1308.6,967.8 L1309.5,966 L1310.5,964.2 L1311.4,962.4 L1312.3,960.5 L1313.2,958.7 L1314.1,956.9 L1315.1,955.1 L1316,953.3 L1316.9,951.5 L1317.8,949.7 L1318.7,947.9 L1319.4,946.1 L1320.2,944.3 L1320.9,942.5 L1321.6,940.7 L1322.3,938.9 L1322.9,937.1 L1323.5,935.3 L1324,933.5 L1324.5,931.7 L1325,929.9 L1325.5,928.1 L1325.9,926.3 L1326.3,924.5 L1326.7,922.7 L1327,920.9 L1327.2,919.1 L1327.4,917.3 L1327.6,915.5 L1327.7,913.7 L1327.8,911.9 L1327.9,910.1 L1328,908.3 L1328,906.5 L1328.1,904.7 L1328.1,902.9 L1328.1,901 L1328.1,899.2 L1328.1,897.4 L1328.1,895.6 L1328.2,893.8 L1328.2,892 L1328.2,890.2 L1328.2,888.4 L1328.2,886.6 L1328.2,884.8 L1328.2,883 L1328.2,881.2 L1328.2,879.4 L1328.2,877.6 L1328.2,875.8 L1328.2,874 L1328.2,872.2 Z" fill="#80FFFF" stroke="#000000" stroke-width="1.8" stroke-linejoin="round"/>
<line x1="1279.8" y1="1060" x2="1377.2" y2="1060" stroke="#000" stroke-width="1.6"/>
<line x1="1226" y1="930.8" x2="1226" y2="1058.8" stroke="#000" stroke-width="3.3"/>
<circle cx="1226" cy="930.8" r="15.6" fill="#000"/>
<path d="M1232.3,860 V855.4 H1327.5 V860" fill="none" stroke="#000" stroke-width="2.9"/>
<text x="1218.3" y="845.6" font-size="28" textLength="120.5" lengthAdjust="spacingAndGlyphs"><tspan font-style="italic">P</tspan> = 0.002</text>
<text x="1166" y="1347.3" font-size="27.5" textLength="305" lengthAdjust="spacingAndGlyphs">Interaction dPC1 x dPC2</text>

</svg>
</body></html>
